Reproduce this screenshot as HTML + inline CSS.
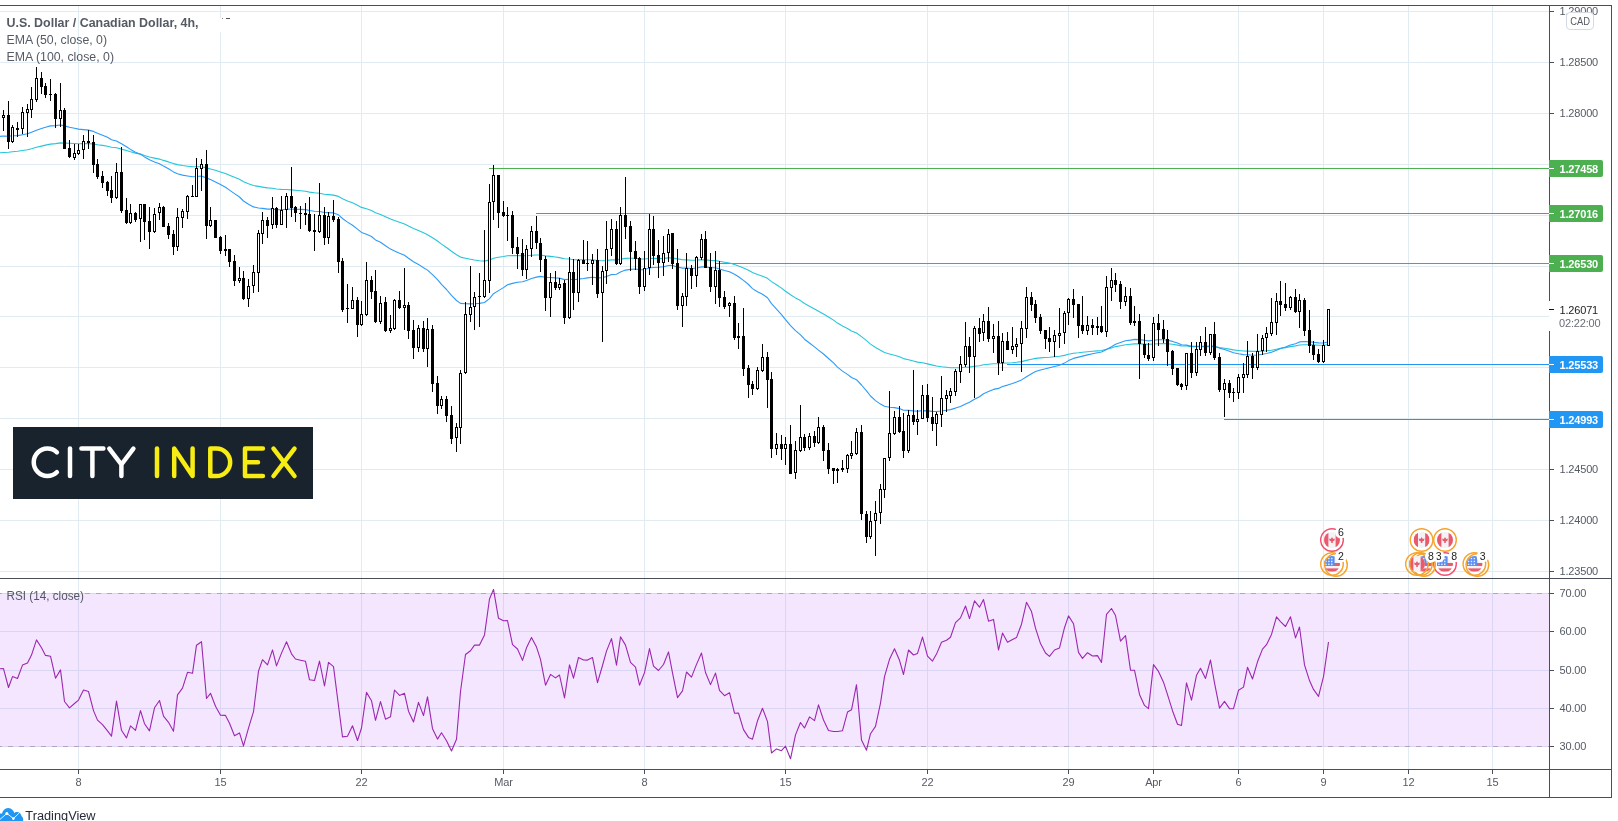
<!DOCTYPE html>
<html><head><meta charset="utf-8"><title>USDCAD 4h</title>
<style>html,body{margin:0;padding:0;background:#fff;overflow:hidden}body{width:1618px;height:821px}svg{font-family:"Liberation Sans",sans-serif}</style></head>
<body>
<svg width="1618" height="821" viewBox="0 0 1618 821" style="display:block;will-change:transform">
<rect x="0" y="0" width="1618" height="821" fill="#ffffff"/>
<g shape-rendering="crispEdges" fill="#e1ecf2">
<rect x="78" y="6" width="1" height="572"/>
<rect x="78" y="579" width="1" height="190"/>
<rect x="220" y="6" width="1" height="572"/>
<rect x="220" y="579" width="1" height="190"/>
<rect x="361" y="6" width="1" height="572"/>
<rect x="361" y="579" width="1" height="190"/>
<rect x="503" y="6" width="1" height="572"/>
<rect x="503" y="579" width="1" height="190"/>
<rect x="644" y="6" width="1" height="572"/>
<rect x="644" y="579" width="1" height="190"/>
<rect x="785" y="6" width="1" height="572"/>
<rect x="785" y="579" width="1" height="190"/>
<rect x="927" y="6" width="1" height="572"/>
<rect x="927" y="579" width="1" height="190"/>
<rect x="1068" y="6" width="1" height="572"/>
<rect x="1068" y="579" width="1" height="190"/>
<rect x="1153" y="6" width="1" height="572"/>
<rect x="1153" y="579" width="1" height="190"/>
<rect x="1238" y="6" width="1" height="572"/>
<rect x="1238" y="579" width="1" height="190"/>
<rect x="1323" y="6" width="1" height="572"/>
<rect x="1323" y="579" width="1" height="190"/>
<rect x="1408" y="6" width="1" height="572"/>
<rect x="1408" y="579" width="1" height="190"/>
<rect x="1492" y="6" width="1" height="572"/>
<rect x="1492" y="579" width="1" height="190"/>
<rect x="0" y="11" width="1549" height="1"/>
<rect x="0" y="62" width="1549" height="1"/>
<rect x="0" y="113" width="1549" height="1"/>
<rect x="0" y="164" width="1549" height="1"/>
<rect x="0" y="215" width="1549" height="1"/>
<rect x="0" y="266" width="1549" height="1"/>
<rect x="0" y="316" width="1549" height="1"/>
<rect x="0" y="367" width="1549" height="1"/>
<rect x="0" y="418" width="1549" height="1"/>
<rect x="0" y="469" width="1549" height="1"/>
<rect x="0" y="520" width="1549" height="1"/>
<rect x="0" y="571" width="1549" height="1"/>
<rect x="0" y="593" width="1549" height="1"/>
<rect x="0" y="631" width="1549" height="1"/>
<rect x="0" y="670" width="1549" height="1"/>
<rect x="0" y="708" width="1549" height="1"/>
<rect x="0" y="746" width="1549" height="1"/>
</g>
<rect x="0" y="593" width="1549" height="154" fill="#9915ff" fill-opacity="0.105"/>
<g shape-rendering="crispEdges" stroke="#b3a3bb" stroke-width="1" stroke-dasharray="5 6">
<line x1="0" y1="593.5" x2="1549" y2="593.5" stroke-dashoffset="3"/>
<line x1="0" y1="746.5" x2="1549" y2="746.5" stroke-dashoffset="3"/>
</g>
<g shape-rendering="crispEdges">
<rect x="489" y="168" width="1060" height="1" fill="#4caf50"/>
<rect x="536" y="213" width="1013" height="1" fill="#4caf50"/>
<rect x="715" y="263" width="834" height="1" fill="#4caf50"/>
<rect x="1007" y="364" width="542" height="1" fill="#2196f3"/>
<rect x="1224" y="419" width="325" height="1" fill="#2196f3"/>
</g>
<polyline points="0,152.7 3.5,152.5 8.5,152.2 12.5,151.7 17.5,151.3 22.5,150.5 27.5,149.7 31.5,148.7 36.5,147.3 41.5,146.1 45.5,145.1 50.5,144.1 55.5,143.6 60.5,142.9 64.5,143.1 69.5,143.3 74.5,143.5 78.5,143.7 83.5,143.6 88.5,143.6 93.5,144.0 97.5,144.7 102.5,145.4 107.5,146.3 111.5,147.3 116.5,147.8 121.5,149.1 126.5,150.5 130.5,151.8 135.5,153.1 140.5,154.1 144.5,155.5 149.5,157.0 154.5,158.1 159.5,159.1 163.5,160.4 168.5,161.9 173.5,163.6 177.5,164.6 182.5,165.5 187.5,166.2 192.5,166.8 196.5,166.8 201.5,166.8 206.5,167.9 210.5,169.0 215.5,170.3 220.5,171.9 225.5,173.5 229.5,175.2 234.5,177.3 239.5,179.3 243.5,181.7 248.5,183.7 253.5,185.5 258.5,186.4 262.5,187.1 267.5,187.9 272.5,188.3 276.5,189.0 281.5,189.4 286.5,189.5 291.5,189.9 295.5,190.3 300.5,190.8 305.5,191.3 309.5,192.1 314.5,192.8 319.5,193.3 324.5,194.2 328.5,194.6 333.5,195.1 338.5,196.4 342.5,198.7 347.5,200.9 352.5,202.8 357.5,205.2 361.5,207.4 366.5,208.8 371.5,210.5 375.5,212.7 380.5,214.5 385.5,216.8 390.5,219.0 394.5,220.6 399.5,222.3 404.5,224.0 408.5,226.1 413.5,228.5 418.5,230.5 423.5,232.8 427.5,234.7 432.5,237.7 437.5,241.0 441.5,244.1 446.5,247.5 451.5,251.3 456.5,254.8 460.5,257.1 465.5,258.2 470.5,259.2 474.5,260.0 479.5,260.7 484.5,261.1 489.5,259.9 493.5,258.2 498.5,257.3 503.5,256.5 507.5,255.7 512.5,255.6 517.5,255.5 522.5,255.8 526.5,255.7 531.5,255.2 536.5,255.0 540.5,255.0 545.5,255.9 550.5,256.4 555.5,257.0 559.5,257.6 564.5,258.7 569.5,259.0 573.5,259.7 578.5,259.7 583.5,259.8 587.5,259.8 592.5,259.8 597.5,260.5 602.5,260.7 606.5,260.5 611.5,259.9 616.5,259.9 620.5,259.1 625.5,258.4 630.5,258.3 635.5,258.3 639.5,258.9 644.5,259.0 649.5,258.5 653.5,258.4 658.5,258.5 663.5,258.4 668.5,257.9 672.5,258.0 677.5,258.9 682.5,259.7 686.5,259.9 691.5,260.2 696.5,260.1 701.5,259.7 705.5,259.9 710.5,260.4 715.5,260.6 719.5,261.3 724.5,262.2 729.5,263.0 734.5,264.5 738.5,266.0 743.5,268.0 748.5,270.3 752.5,272.6 757.5,274.6 762.5,276.2 767.5,278.3 771.5,281.6 776.5,284.8 781.5,288.1 785.5,291.2 790.5,294.8 795.5,297.9 800.5,300.6 804.5,303.5 809.5,306.2 814.5,308.9 818.5,311.2 823.5,314.0 828.5,317.0 833.5,320.1 837.5,323.1 842.5,326.0 847.5,328.5 851.5,331.0 856.5,333.0 861.5,336.6 866.5,340.6 870.5,344.1 875.5,347.5 880.5,350.3 884.5,352.4 889.5,354.0 894.5,355.3 899.5,356.8 903.5,358.6 908.5,359.8 913.5,361.0 917.5,362.1 922.5,362.8 927.5,363.9 932.5,365.1 936.5,366.0 941.5,366.7 946.5,367.2 950.5,367.7 955.5,367.8 960.5,367.7 965.5,367.3 969.5,367.1 974.5,366.3 979.5,365.7 983.5,364.8 988.5,364.3 993.5,363.7 998.5,363.7 1002.5,363.3 1007.5,363.0 1012.5,362.7 1016.5,362.3 1021.5,361.6 1026.5,360.4 1031.5,359.2 1035.5,358.4 1040.5,357.9 1045.5,357.5 1049.5,357.2 1054.5,356.7 1059.5,356.3 1064.5,355.4 1068.5,354.3 1073.5,353.3 1078.5,352.8 1082.5,352.3 1087.5,351.8 1092.5,351.3 1097.5,350.9 1101.5,350.5 1106.5,349.2 1111.5,347.9 1115.5,346.6 1120.5,345.7 1125.5,344.8 1130.5,344.3 1134.5,343.9 1139.5,343.9 1144.5,344.1 1148.5,344.4 1153.5,344.0 1158.5,343.7 1163.5,343.6 1167.5,343.8 1172.5,344.3 1177.5,345.1 1181.5,345.9 1186.5,346.0 1191.5,346.6 1196.5,346.6 1200.5,346.5 1205.5,346.7 1210.5,346.4 1214.5,346.6 1219.5,347.5 1224.5,348.2 1229.5,349.1 1233.5,349.9 1238.5,350.5 1243.5,351.0 1247.5,351.1 1252.5,351.4 1257.5,351.4 1262.5,351.1 1266.5,350.8 1271.5,350.2 1276.5,349.2 1280.5,348.4 1285.5,347.6 1290.5,346.6 1295.5,345.9 1299.5,345.0 1304.5,344.7 1309.5,344.7 1313.5,344.9 1318.5,345.2 1323.5,345.2 1328.5,344.5" fill="none" stroke="#26c6da" stroke-width="1.1" stroke-linejoin="round"/>
<polyline points="0,136.4 3.5,136.0 8.5,136.2 12.5,135.8 17.5,135.6 22.5,134.7 27.5,133.7 31.5,132.3 36.5,130.2 41.5,128.5 45.5,127.2 50.5,125.9 55.5,125.6 60.5,125.0 64.5,125.9 69.5,127.2 74.5,128.2 78.5,129.1 83.5,129.6 88.5,130.1 93.5,131.4 97.5,133.2 102.5,135.2 107.5,137.3 111.5,139.7 116.5,141.0 121.5,143.7 126.5,146.8 130.5,149.4 135.5,152.2 140.5,154.2 144.5,156.9 149.5,159.8 154.5,161.9 159.5,163.7 163.5,166.1 168.5,168.8 173.5,171.9 177.5,173.7 182.5,175.1 187.5,176.0 192.5,176.8 196.5,176.5 201.5,176.0 206.5,177.9 210.5,179.6 215.5,181.9 220.5,184.6 225.5,187.2 229.5,190.1 234.5,193.6 239.5,197.0 243.5,201.0 248.5,204.3 253.5,206.9 258.5,208.0 262.5,208.4 267.5,209.1 272.5,209.1 276.5,209.7 281.5,209.7 286.5,209.2 291.5,209.1 295.5,209.3 300.5,209.4 305.5,209.6 309.5,210.5 314.5,211.3 319.5,211.5 324.5,212.5 328.5,212.6 333.5,212.9 338.5,214.8 342.5,218.5 347.5,222.1 352.5,225.2 357.5,229.1 361.5,232.4 366.5,234.3 371.5,236.5 375.5,239.9 380.5,242.3 385.5,245.8 390.5,249.1 394.5,251.1 399.5,253.3 404.5,255.3 408.5,258.3 413.5,261.8 418.5,264.4 423.5,267.7 427.5,270.1 432.5,274.6 437.5,279.7 441.5,284.4 446.5,289.5 451.5,295.4 456.5,300.5 460.5,303.4 465.5,303.8 470.5,303.9 474.5,303.7 479.5,303.4 484.5,302.5 489.5,298.6 493.5,293.7 498.5,290.6 503.5,287.6 507.5,284.8 512.5,283.4 517.5,282.2 522.5,281.7 526.5,280.4 531.5,278.5 536.5,277.1 540.5,276.4 545.5,277.3 550.5,277.5 555.5,277.9 559.5,278.1 564.5,279.6 569.5,279.3 573.5,279.8 578.5,279.1 583.5,278.5 587.5,277.9 592.5,277.2 597.5,277.9 602.5,277.6 606.5,276.5 611.5,274.6 616.5,274.2 620.5,271.9 625.5,270.1 630.5,269.4 635.5,269.0 639.5,269.7 644.5,269.6 649.5,268.0 653.5,267.5 658.5,267.3 663.5,266.8 668.5,265.5 672.5,265.4 677.5,267.0 682.5,268.1 686.5,268.1 691.5,268.5 696.5,268.0 701.5,266.9 705.5,266.9 710.5,267.7 715.5,267.8 719.5,269.0 724.5,270.5 729.5,271.7 734.5,274.3 738.5,276.8 743.5,280.4 748.5,284.5 752.5,288.6 757.5,291.8 762.5,294.3 767.5,297.7 771.5,303.6 776.5,309.1 781.5,314.6 785.5,319.7 790.5,325.7 795.5,330.6 800.5,334.8 804.5,339.2 809.5,343.0 814.5,346.9 818.5,350.1 823.5,354.0 828.5,358.5 833.5,362.9 837.5,367.1 842.5,371.1 847.5,374.4 851.5,377.5 856.5,379.7 861.5,385.0 866.5,390.9 870.5,396.0 875.5,400.6 880.5,404.1 884.5,406.2 889.5,407.2 894.5,407.6 899.5,408.6 903.5,410.2 908.5,410.4 913.5,410.9 917.5,411.2 922.5,410.6 927.5,410.9 932.5,411.4 936.5,411.5 941.5,411.0 946.5,410.3 950.5,409.6 955.5,408.1 960.5,406.4 965.5,404.0 969.5,402.2 974.5,399.3 979.5,396.7 983.5,393.7 988.5,391.6 993.5,389.4 998.5,388.4 1002.5,386.5 1007.5,385.1 1012.5,383.5 1016.5,382.0 1021.5,379.9 1026.5,376.7 1031.5,373.8 1035.5,371.6 1040.5,370.0 1045.5,368.8 1049.5,367.7 1054.5,366.5 1059.5,365.2 1064.5,363.1 1068.5,360.6 1073.5,358.4 1078.5,357.1 1082.5,356.1 1087.5,354.9 1092.5,353.8 1097.5,352.8 1101.5,352.0 1106.5,349.4 1111.5,346.7 1115.5,344.3 1120.5,342.6 1125.5,340.8 1130.5,340.1 1134.5,339.4 1139.5,339.6 1144.5,340.2 1148.5,340.9 1153.5,340.3 1158.5,339.8 1163.5,339.8 1167.5,340.3 1172.5,341.4 1177.5,343.1 1181.5,344.8 1186.5,345.1 1191.5,346.2 1196.5,346.3 1200.5,346.2 1205.5,346.4 1210.5,346.0 1214.5,346.4 1219.5,348.1 1224.5,349.5 1229.5,351.2 1233.5,352.8 1238.5,353.8 1243.5,354.6 1247.5,354.7 1252.5,355.2 1257.5,355.0 1262.5,354.3 1266.5,353.5 1271.5,352.3 1276.5,350.3 1280.5,348.5 1285.5,346.9 1290.5,345.0 1295.5,343.7 1299.5,341.9 1304.5,341.5 1309.5,341.7 1313.5,342.2 1318.5,342.9 1323.5,343.0 1328.5,341.7" fill="none" stroke="#2d9bf7" stroke-width="1.1" stroke-linejoin="round"/>
<g shape-rendering="crispEdges">
<rect x="3" y="110" width="1" height="5" fill="#000"/>
<rect x="3" y="118" width="1" height="13" fill="#000"/>
<rect x="2" y="115" width="3" height="3" fill="#000"/>
<rect x="3" y="116" width="1" height="1" fill="#fff"/>
<rect x="8" y="101" width="1" height="48" fill="#000"/>
<rect x="7" y="115" width="3" height="27" fill="#000"/>
<rect x="12" y="125" width="1" height="2" fill="#000"/>
<rect x="12" y="142" width="1" height="1" fill="#000"/>
<rect x="11" y="127" width="3" height="15" fill="#000"/>
<rect x="12" y="128" width="1" height="13" fill="#fff"/>
<rect x="17" y="122" width="1" height="15" fill="#000"/>
<rect x="16" y="128" width="3" height="2" fill="#000"/>
<rect x="22" y="107" width="1" height="5" fill="#000"/>
<rect x="22" y="129" width="1" height="5" fill="#000"/>
<rect x="21" y="112" width="3" height="17" fill="#000"/>
<rect x="22" y="113" width="1" height="15" fill="#fff"/>
<rect x="27" y="104" width="1" height="5" fill="#000"/>
<rect x="27" y="113" width="1" height="24" fill="#000"/>
<rect x="26" y="109" width="3" height="4" fill="#000"/>
<rect x="27" y="110" width="1" height="2" fill="#fff"/>
<rect x="31" y="87" width="1" height="12" fill="#000"/>
<rect x="31" y="110" width="1" height="8" fill="#000"/>
<rect x="30" y="99" width="3" height="11" fill="#000"/>
<rect x="31" y="100" width="1" height="9" fill="#fff"/>
<rect x="36" y="67" width="1" height="11" fill="#000"/>
<rect x="36" y="100" width="1" height="2" fill="#000"/>
<rect x="35" y="78" width="3" height="22" fill="#000"/>
<rect x="36" y="79" width="1" height="20" fill="#fff"/>
<rect x="41" y="72" width="1" height="22" fill="#000"/>
<rect x="40" y="78" width="3" height="9" fill="#000"/>
<rect x="45" y="83" width="1" height="15" fill="#000"/>
<rect x="44" y="86" width="3" height="9" fill="#000"/>
<rect x="50" y="79" width="1" height="22" fill="#000"/>
<rect x="49" y="94" width="3" height="1" fill="#000"/>
<rect x="55" y="93" width="1" height="35" fill="#000"/>
<rect x="54" y="94" width="3" height="25" fill="#000"/>
<rect x="60" y="83" width="1" height="27" fill="#000"/>
<rect x="60" y="119" width="1" height="8" fill="#000"/>
<rect x="59" y="110" width="3" height="9" fill="#000"/>
<rect x="60" y="111" width="1" height="7" fill="#fff"/>
<rect x="64" y="108" width="1" height="41" fill="#000"/>
<rect x="63" y="110" width="3" height="39" fill="#000"/>
<rect x="69" y="140" width="1" height="18" fill="#000"/>
<rect x="68" y="148" width="3" height="9" fill="#000"/>
<rect x="74" y="144" width="1" height="9" fill="#000"/>
<rect x="74" y="158" width="1" height="2" fill="#000"/>
<rect x="73" y="153" width="3" height="5" fill="#000"/>
<rect x="74" y="154" width="1" height="3" fill="#fff"/>
<rect x="78" y="144" width="1" height="6" fill="#000"/>
<rect x="78" y="154" width="1" height="1" fill="#000"/>
<rect x="77" y="150" width="3" height="4" fill="#000"/>
<rect x="78" y="151" width="1" height="2" fill="#fff"/>
<rect x="83" y="135" width="1" height="6" fill="#000"/>
<rect x="83" y="150" width="1" height="9" fill="#000"/>
<rect x="82" y="141" width="3" height="9" fill="#000"/>
<rect x="83" y="142" width="1" height="7" fill="#fff"/>
<rect x="88" y="130" width="1" height="19" fill="#000"/>
<rect x="87" y="141" width="3" height="2" fill="#000"/>
<rect x="93" y="135" width="1" height="38" fill="#000"/>
<rect x="92" y="142" width="3" height="23" fill="#000"/>
<rect x="97" y="159" width="1" height="20" fill="#000"/>
<rect x="96" y="164" width="3" height="13" fill="#000"/>
<rect x="102" y="171" width="1" height="17" fill="#000"/>
<rect x="101" y="176" width="3" height="7" fill="#000"/>
<rect x="107" y="181" width="1" height="15" fill="#000"/>
<rect x="106" y="182" width="3" height="9" fill="#000"/>
<rect x="111" y="176" width="1" height="27" fill="#000"/>
<rect x="110" y="190" width="3" height="8" fill="#000"/>
<rect x="116" y="163" width="1" height="9" fill="#000"/>
<rect x="116" y="198" width="1" height="1" fill="#000"/>
<rect x="115" y="172" width="3" height="26" fill="#000"/>
<rect x="116" y="173" width="1" height="24" fill="#fff"/>
<rect x="121" y="147" width="1" height="66" fill="#000"/>
<rect x="120" y="172" width="3" height="39" fill="#000"/>
<rect x="126" y="198" width="1" height="26" fill="#000"/>
<rect x="125" y="210" width="3" height="13" fill="#000"/>
<rect x="130" y="204" width="1" height="9" fill="#000"/>
<rect x="130" y="223" width="1" height="1" fill="#000"/>
<rect x="129" y="213" width="3" height="10" fill="#000"/>
<rect x="130" y="214" width="1" height="8" fill="#fff"/>
<rect x="135" y="212" width="1" height="10" fill="#000"/>
<rect x="134" y="213" width="3" height="7" fill="#000"/>
<rect x="140" y="219" width="1" height="23" fill="#000"/>
<rect x="139" y="204" width="3" height="15" fill="#000"/>
<rect x="140" y="205" width="1" height="13" fill="#fff"/>
<rect x="144" y="204" width="1" height="36" fill="#000"/>
<rect x="143" y="204" width="3" height="18" fill="#000"/>
<rect x="149" y="207" width="1" height="42" fill="#000"/>
<rect x="148" y="221" width="3" height="11" fill="#000"/>
<rect x="154" y="208" width="1" height="6" fill="#000"/>
<rect x="154" y="232" width="1" height="1" fill="#000"/>
<rect x="153" y="214" width="3" height="18" fill="#000"/>
<rect x="154" y="215" width="1" height="16" fill="#fff"/>
<rect x="159" y="203" width="1" height="4" fill="#000"/>
<rect x="159" y="213" width="1" height="7" fill="#000"/>
<rect x="158" y="207" width="3" height="6" fill="#000"/>
<rect x="159" y="208" width="1" height="4" fill="#fff"/>
<rect x="163" y="206" width="1" height="21" fill="#000"/>
<rect x="162" y="207" width="3" height="20" fill="#000"/>
<rect x="168" y="223" width="1" height="16" fill="#000"/>
<rect x="167" y="226" width="3" height="9" fill="#000"/>
<rect x="173" y="230" width="1" height="25" fill="#000"/>
<rect x="172" y="234" width="3" height="13" fill="#000"/>
<rect x="177" y="208" width="1" height="9" fill="#000"/>
<rect x="177" y="247" width="1" height="4" fill="#000"/>
<rect x="176" y="217" width="3" height="30" fill="#000"/>
<rect x="177" y="218" width="1" height="28" fill="#fff"/>
<rect x="182" y="209" width="1" height="2" fill="#000"/>
<rect x="182" y="218" width="1" height="10" fill="#000"/>
<rect x="181" y="211" width="3" height="7" fill="#000"/>
<rect x="182" y="212" width="1" height="5" fill="#fff"/>
<rect x="187" y="195" width="1" height="1" fill="#000"/>
<rect x="187" y="212" width="1" height="7" fill="#000"/>
<rect x="186" y="196" width="3" height="16" fill="#000"/>
<rect x="187" y="197" width="1" height="14" fill="#fff"/>
<rect x="192" y="185" width="1" height="12" fill="#000"/>
<rect x="191" y="196" width="3" height="1" fill="#000"/>
<rect x="196" y="158" width="1" height="10" fill="#000"/>
<rect x="195" y="168" width="3" height="29" fill="#000"/>
<rect x="196" y="169" width="1" height="27" fill="#fff"/>
<rect x="201" y="159" width="1" height="5" fill="#000"/>
<rect x="201" y="169" width="1" height="22" fill="#000"/>
<rect x="200" y="164" width="3" height="5" fill="#000"/>
<rect x="201" y="165" width="1" height="3" fill="#fff"/>
<rect x="206" y="150" width="1" height="89" fill="#000"/>
<rect x="205" y="164" width="3" height="62" fill="#000"/>
<rect x="210" y="207" width="1" height="13" fill="#000"/>
<rect x="210" y="226" width="1" height="1" fill="#000"/>
<rect x="209" y="220" width="3" height="6" fill="#000"/>
<rect x="210" y="221" width="1" height="4" fill="#fff"/>
<rect x="215" y="220" width="1" height="18" fill="#000"/>
<rect x="214" y="220" width="3" height="18" fill="#000"/>
<rect x="220" y="236" width="1" height="18" fill="#000"/>
<rect x="219" y="237" width="3" height="14" fill="#000"/>
<rect x="225" y="235" width="1" height="21" fill="#000"/>
<rect x="224" y="249" width="3" height="2" fill="#000"/>
<rect x="229" y="249" width="1" height="18" fill="#000"/>
<rect x="228" y="249" width="3" height="13" fill="#000"/>
<rect x="234" y="255" width="1" height="31" fill="#000"/>
<rect x="233" y="261" width="3" height="20" fill="#000"/>
<rect x="239" y="267" width="1" height="11" fill="#000"/>
<rect x="239" y="281" width="1" height="2" fill="#000"/>
<rect x="238" y="278" width="3" height="3" fill="#000"/>
<rect x="239" y="279" width="1" height="1" fill="#fff"/>
<rect x="243" y="271" width="1" height="29" fill="#000"/>
<rect x="242" y="278" width="3" height="21" fill="#000"/>
<rect x="248" y="279" width="1" height="7" fill="#000"/>
<rect x="248" y="299" width="1" height="8" fill="#000"/>
<rect x="247" y="286" width="3" height="13" fill="#000"/>
<rect x="248" y="287" width="1" height="11" fill="#fff"/>
<rect x="253" y="265" width="1" height="7" fill="#000"/>
<rect x="253" y="286" width="1" height="7" fill="#000"/>
<rect x="252" y="272" width="3" height="14" fill="#000"/>
<rect x="253" y="273" width="1" height="12" fill="#fff"/>
<rect x="258" y="230" width="1" height="3" fill="#000"/>
<rect x="258" y="273" width="1" height="19" fill="#000"/>
<rect x="257" y="233" width="3" height="40" fill="#000"/>
<rect x="258" y="234" width="1" height="38" fill="#fff"/>
<rect x="262" y="212" width="1" height="8" fill="#000"/>
<rect x="262" y="234" width="1" height="10" fill="#000"/>
<rect x="261" y="220" width="3" height="14" fill="#000"/>
<rect x="262" y="221" width="1" height="12" fill="#fff"/>
<rect x="267" y="217" width="1" height="21" fill="#000"/>
<rect x="266" y="220" width="3" height="6" fill="#000"/>
<rect x="272" y="197" width="1" height="11" fill="#000"/>
<rect x="272" y="225" width="1" height="4" fill="#000"/>
<rect x="271" y="208" width="3" height="17" fill="#000"/>
<rect x="272" y="209" width="1" height="15" fill="#fff"/>
<rect x="276" y="207" width="1" height="21" fill="#000"/>
<rect x="275" y="208" width="3" height="17" fill="#000"/>
<rect x="281" y="196" width="1" height="14" fill="#000"/>
<rect x="280" y="210" width="3" height="15" fill="#000"/>
<rect x="281" y="211" width="1" height="13" fill="#fff"/>
<rect x="286" y="193" width="1" height="3" fill="#000"/>
<rect x="286" y="210" width="1" height="18" fill="#000"/>
<rect x="285" y="196" width="3" height="14" fill="#000"/>
<rect x="286" y="197" width="1" height="12" fill="#fff"/>
<rect x="291" y="167" width="1" height="50" fill="#000"/>
<rect x="290" y="196" width="3" height="12" fill="#000"/>
<rect x="295" y="206" width="1" height="16" fill="#000"/>
<rect x="294" y="207" width="3" height="6" fill="#000"/>
<rect x="300" y="206" width="1" height="23" fill="#000"/>
<rect x="299" y="213" width="3" height="1" fill="#000"/>
<rect x="305" y="203" width="1" height="22" fill="#000"/>
<rect x="304" y="213" width="3" height="2" fill="#000"/>
<rect x="309" y="197" width="1" height="35" fill="#000"/>
<rect x="308" y="214" width="3" height="17" fill="#000"/>
<rect x="314" y="214" width="1" height="37" fill="#000"/>
<rect x="313" y="230" width="3" height="2" fill="#000"/>
<rect x="319" y="183" width="1" height="32" fill="#000"/>
<rect x="319" y="232" width="1" height="1" fill="#000"/>
<rect x="318" y="215" width="3" height="17" fill="#000"/>
<rect x="319" y="216" width="1" height="15" fill="#fff"/>
<rect x="324" y="207" width="1" height="38" fill="#000"/>
<rect x="323" y="215" width="3" height="23" fill="#000"/>
<rect x="328" y="212" width="1" height="4" fill="#000"/>
<rect x="328" y="238" width="1" height="6" fill="#000"/>
<rect x="327" y="216" width="3" height="22" fill="#000"/>
<rect x="328" y="217" width="1" height="20" fill="#fff"/>
<rect x="333" y="200" width="1" height="22" fill="#000"/>
<rect x="332" y="216" width="3" height="4" fill="#000"/>
<rect x="338" y="217" width="1" height="56" fill="#000"/>
<rect x="337" y="219" width="3" height="43" fill="#000"/>
<rect x="342" y="258" width="1" height="54" fill="#000"/>
<rect x="341" y="261" width="3" height="49" fill="#000"/>
<rect x="347" y="284" width="1" height="39" fill="#000"/>
<rect x="346" y="308" width="3" height="1" fill="#000"/>
<rect x="352" y="287" width="1" height="13" fill="#000"/>
<rect x="351" y="300" width="3" height="9" fill="#000"/>
<rect x="352" y="301" width="1" height="7" fill="#fff"/>
<rect x="357" y="297" width="1" height="40" fill="#000"/>
<rect x="356" y="300" width="3" height="25" fill="#000"/>
<rect x="361" y="301" width="1" height="13" fill="#000"/>
<rect x="361" y="325" width="1" height="1" fill="#000"/>
<rect x="360" y="314" width="3" height="11" fill="#000"/>
<rect x="361" y="315" width="1" height="9" fill="#fff"/>
<rect x="366" y="262" width="1" height="18" fill="#000"/>
<rect x="366" y="315" width="1" height="1" fill="#000"/>
<rect x="365" y="280" width="3" height="35" fill="#000"/>
<rect x="366" y="281" width="1" height="33" fill="#fff"/>
<rect x="371" y="276" width="1" height="23" fill="#000"/>
<rect x="370" y="280" width="3" height="12" fill="#000"/>
<rect x="375" y="270" width="1" height="53" fill="#000"/>
<rect x="374" y="291" width="3" height="31" fill="#000"/>
<rect x="380" y="296" width="1" height="7" fill="#000"/>
<rect x="380" y="322" width="1" height="2" fill="#000"/>
<rect x="379" y="303" width="3" height="19" fill="#000"/>
<rect x="380" y="304" width="1" height="17" fill="#fff"/>
<rect x="385" y="297" width="1" height="35" fill="#000"/>
<rect x="384" y="302" width="3" height="29" fill="#000"/>
<rect x="390" y="315" width="1" height="13" fill="#000"/>
<rect x="390" y="331" width="1" height="2" fill="#000"/>
<rect x="389" y="328" width="3" height="3" fill="#000"/>
<rect x="390" y="329" width="1" height="1" fill="#fff"/>
<rect x="394" y="299" width="1" height="1" fill="#000"/>
<rect x="394" y="329" width="1" height="1" fill="#000"/>
<rect x="393" y="300" width="3" height="29" fill="#000"/>
<rect x="394" y="301" width="1" height="27" fill="#fff"/>
<rect x="399" y="291" width="1" height="18" fill="#000"/>
<rect x="398" y="300" width="3" height="8" fill="#000"/>
<rect x="404" y="268" width="1" height="37" fill="#000"/>
<rect x="404" y="308" width="1" height="22" fill="#000"/>
<rect x="403" y="305" width="3" height="3" fill="#000"/>
<rect x="404" y="306" width="1" height="1" fill="#fff"/>
<rect x="408" y="302" width="1" height="37" fill="#000"/>
<rect x="407" y="305" width="3" height="26" fill="#000"/>
<rect x="413" y="320" width="1" height="39" fill="#000"/>
<rect x="412" y="330" width="3" height="18" fill="#000"/>
<rect x="418" y="325" width="1" height="3" fill="#000"/>
<rect x="418" y="348" width="1" height="4" fill="#000"/>
<rect x="417" y="328" width="3" height="20" fill="#000"/>
<rect x="418" y="329" width="1" height="18" fill="#fff"/>
<rect x="423" y="321" width="1" height="31" fill="#000"/>
<rect x="422" y="328" width="3" height="21" fill="#000"/>
<rect x="427" y="318" width="1" height="11" fill="#000"/>
<rect x="427" y="349" width="1" height="18" fill="#000"/>
<rect x="426" y="329" width="3" height="20" fill="#000"/>
<rect x="427" y="330" width="1" height="18" fill="#fff"/>
<rect x="432" y="325" width="1" height="67" fill="#000"/>
<rect x="431" y="329" width="3" height="55" fill="#000"/>
<rect x="437" y="376" width="1" height="38" fill="#000"/>
<rect x="436" y="383" width="3" height="23" fill="#000"/>
<rect x="441" y="396" width="1" height="3" fill="#000"/>
<rect x="441" y="406" width="1" height="3" fill="#000"/>
<rect x="440" y="399" width="3" height="7" fill="#000"/>
<rect x="441" y="400" width="1" height="5" fill="#fff"/>
<rect x="446" y="396" width="1" height="26" fill="#000"/>
<rect x="445" y="399" width="3" height="17" fill="#000"/>
<rect x="451" y="406" width="1" height="38" fill="#000"/>
<rect x="450" y="415" width="3" height="24" fill="#000"/>
<rect x="456" y="423" width="1" height="4" fill="#000"/>
<rect x="456" y="438" width="1" height="14" fill="#000"/>
<rect x="455" y="427" width="3" height="11" fill="#000"/>
<rect x="456" y="428" width="1" height="9" fill="#fff"/>
<rect x="460" y="370" width="1" height="3" fill="#000"/>
<rect x="460" y="428" width="1" height="16" fill="#000"/>
<rect x="459" y="373" width="3" height="55" fill="#000"/>
<rect x="460" y="374" width="1" height="53" fill="#fff"/>
<rect x="465" y="302" width="1" height="12" fill="#000"/>
<rect x="465" y="373" width="1" height="1" fill="#000"/>
<rect x="464" y="314" width="3" height="59" fill="#000"/>
<rect x="465" y="315" width="1" height="57" fill="#fff"/>
<rect x="470" y="266" width="1" height="41" fill="#000"/>
<rect x="470" y="315" width="1" height="7" fill="#000"/>
<rect x="469" y="307" width="3" height="8" fill="#000"/>
<rect x="470" y="308" width="1" height="6" fill="#fff"/>
<rect x="474" y="292" width="1" height="5" fill="#000"/>
<rect x="474" y="307" width="1" height="23" fill="#000"/>
<rect x="473" y="297" width="3" height="10" fill="#000"/>
<rect x="474" y="298" width="1" height="8" fill="#fff"/>
<rect x="479" y="273" width="1" height="54" fill="#000"/>
<rect x="478" y="296" width="3" height="1" fill="#000"/>
<rect x="484" y="230" width="1" height="50" fill="#000"/>
<rect x="484" y="297" width="1" height="1" fill="#000"/>
<rect x="483" y="280" width="3" height="17" fill="#000"/>
<rect x="484" y="281" width="1" height="15" fill="#fff"/>
<rect x="489" y="184" width="1" height="18" fill="#000"/>
<rect x="489" y="281" width="1" height="12" fill="#000"/>
<rect x="488" y="202" width="3" height="79" fill="#000"/>
<rect x="489" y="203" width="1" height="77" fill="#fff"/>
<rect x="493" y="165" width="1" height="10" fill="#000"/>
<rect x="493" y="202" width="1" height="18" fill="#000"/>
<rect x="492" y="175" width="3" height="27" fill="#000"/>
<rect x="493" y="176" width="1" height="25" fill="#fff"/>
<rect x="498" y="175" width="1" height="53" fill="#000"/>
<rect x="497" y="175" width="3" height="38" fill="#000"/>
<rect x="503" y="201" width="1" height="16" fill="#000"/>
<rect x="502" y="212" width="3" height="4" fill="#000"/>
<rect x="507" y="207" width="1" height="34" fill="#000"/>
<rect x="506" y="215" width="3" height="1" fill="#000"/>
<rect x="512" y="211" width="1" height="43" fill="#000"/>
<rect x="511" y="215" width="3" height="33" fill="#000"/>
<rect x="517" y="237" width="1" height="32" fill="#000"/>
<rect x="516" y="247" width="3" height="7" fill="#000"/>
<rect x="522" y="239" width="1" height="37" fill="#000"/>
<rect x="521" y="253" width="3" height="17" fill="#000"/>
<rect x="526" y="245" width="1" height="4" fill="#000"/>
<rect x="526" y="270" width="1" height="9" fill="#000"/>
<rect x="525" y="249" width="3" height="21" fill="#000"/>
<rect x="526" y="250" width="1" height="19" fill="#fff"/>
<rect x="531" y="226" width="1" height="5" fill="#000"/>
<rect x="531" y="249" width="1" height="8" fill="#000"/>
<rect x="530" y="231" width="3" height="18" fill="#000"/>
<rect x="531" y="232" width="1" height="16" fill="#fff"/>
<rect x="536" y="216" width="1" height="33" fill="#000"/>
<rect x="535" y="231" width="3" height="12" fill="#000"/>
<rect x="540" y="238" width="1" height="34" fill="#000"/>
<rect x="539" y="243" width="3" height="17" fill="#000"/>
<rect x="545" y="256" width="1" height="55" fill="#000"/>
<rect x="544" y="259" width="3" height="39" fill="#000"/>
<rect x="550" y="273" width="1" height="9" fill="#000"/>
<rect x="550" y="298" width="1" height="19" fill="#000"/>
<rect x="549" y="282" width="3" height="16" fill="#000"/>
<rect x="550" y="283" width="1" height="14" fill="#fff"/>
<rect x="555" y="271" width="1" height="19" fill="#000"/>
<rect x="554" y="282" width="3" height="6" fill="#000"/>
<rect x="559" y="278" width="1" height="6" fill="#000"/>
<rect x="559" y="288" width="1" height="2" fill="#000"/>
<rect x="558" y="284" width="3" height="4" fill="#000"/>
<rect x="559" y="285" width="1" height="2" fill="#fff"/>
<rect x="564" y="280" width="1" height="44" fill="#000"/>
<rect x="563" y="283" width="3" height="35" fill="#000"/>
<rect x="569" y="257" width="1" height="15" fill="#000"/>
<rect x="569" y="318" width="1" height="1" fill="#000"/>
<rect x="568" y="272" width="3" height="46" fill="#000"/>
<rect x="569" y="273" width="1" height="44" fill="#fff"/>
<rect x="573" y="259" width="1" height="51" fill="#000"/>
<rect x="572" y="272" width="3" height="21" fill="#000"/>
<rect x="578" y="259" width="1" height="1" fill="#000"/>
<rect x="578" y="293" width="1" height="9" fill="#000"/>
<rect x="577" y="260" width="3" height="33" fill="#000"/>
<rect x="578" y="261" width="1" height="31" fill="#fff"/>
<rect x="583" y="240" width="1" height="24" fill="#000"/>
<rect x="582" y="260" width="3" height="4" fill="#000"/>
<rect x="587" y="241" width="1" height="30" fill="#000"/>
<rect x="586" y="263" width="3" height="1" fill="#000"/>
<rect x="592" y="254" width="1" height="6" fill="#000"/>
<rect x="592" y="264" width="1" height="21" fill="#000"/>
<rect x="591" y="260" width="3" height="4" fill="#000"/>
<rect x="592" y="261" width="1" height="2" fill="#fff"/>
<rect x="597" y="249" width="1" height="49" fill="#000"/>
<rect x="596" y="260" width="3" height="34" fill="#000"/>
<rect x="602" y="266" width="1" height="5" fill="#000"/>
<rect x="602" y="293" width="1" height="49" fill="#000"/>
<rect x="601" y="271" width="3" height="22" fill="#000"/>
<rect x="602" y="272" width="1" height="20" fill="#fff"/>
<rect x="606" y="221" width="1" height="28" fill="#000"/>
<rect x="606" y="271" width="1" height="13" fill="#000"/>
<rect x="605" y="249" width="3" height="22" fill="#000"/>
<rect x="606" y="250" width="1" height="20" fill="#fff"/>
<rect x="611" y="219" width="1" height="10" fill="#000"/>
<rect x="611" y="249" width="1" height="7" fill="#000"/>
<rect x="610" y="229" width="3" height="20" fill="#000"/>
<rect x="611" y="230" width="1" height="18" fill="#fff"/>
<rect x="616" y="221" width="1" height="44" fill="#000"/>
<rect x="615" y="229" width="3" height="35" fill="#000"/>
<rect x="620" y="207" width="1" height="8" fill="#000"/>
<rect x="620" y="264" width="1" height="1" fill="#000"/>
<rect x="619" y="215" width="3" height="49" fill="#000"/>
<rect x="620" y="216" width="1" height="47" fill="#fff"/>
<rect x="625" y="177" width="1" height="62" fill="#000"/>
<rect x="624" y="215" width="3" height="12" fill="#000"/>
<rect x="630" y="221" width="1" height="50" fill="#000"/>
<rect x="629" y="226" width="3" height="26" fill="#000"/>
<rect x="635" y="241" width="1" height="29" fill="#000"/>
<rect x="634" y="251" width="3" height="8" fill="#000"/>
<rect x="639" y="257" width="1" height="37" fill="#000"/>
<rect x="638" y="258" width="3" height="29" fill="#000"/>
<rect x="644" y="251" width="1" height="17" fill="#000"/>
<rect x="644" y="287" width="1" height="4" fill="#000"/>
<rect x="643" y="268" width="3" height="19" fill="#000"/>
<rect x="644" y="269" width="1" height="17" fill="#fff"/>
<rect x="649" y="214" width="1" height="15" fill="#000"/>
<rect x="649" y="268" width="1" height="7" fill="#000"/>
<rect x="648" y="229" width="3" height="39" fill="#000"/>
<rect x="649" y="230" width="1" height="37" fill="#fff"/>
<rect x="653" y="216" width="1" height="49" fill="#000"/>
<rect x="652" y="229" width="3" height="27" fill="#000"/>
<rect x="658" y="240" width="1" height="38" fill="#000"/>
<rect x="657" y="255" width="3" height="8" fill="#000"/>
<rect x="663" y="236" width="1" height="17" fill="#000"/>
<rect x="663" y="263" width="1" height="13" fill="#000"/>
<rect x="662" y="253" width="3" height="10" fill="#000"/>
<rect x="663" y="254" width="1" height="8" fill="#fff"/>
<rect x="668" y="229" width="1" height="5" fill="#000"/>
<rect x="668" y="253" width="1" height="9" fill="#000"/>
<rect x="667" y="234" width="3" height="19" fill="#000"/>
<rect x="668" y="235" width="1" height="17" fill="#fff"/>
<rect x="672" y="233" width="1" height="36" fill="#000"/>
<rect x="671" y="233" width="3" height="31" fill="#000"/>
<rect x="677" y="249" width="1" height="61" fill="#000"/>
<rect x="676" y="263" width="3" height="43" fill="#000"/>
<rect x="682" y="293" width="1" height="3" fill="#000"/>
<rect x="682" y="306" width="1" height="21" fill="#000"/>
<rect x="681" y="296" width="3" height="10" fill="#000"/>
<rect x="682" y="297" width="1" height="8" fill="#fff"/>
<rect x="686" y="253" width="1" height="15" fill="#000"/>
<rect x="686" y="297" width="1" height="9" fill="#000"/>
<rect x="685" y="268" width="3" height="29" fill="#000"/>
<rect x="686" y="269" width="1" height="27" fill="#fff"/>
<rect x="691" y="265" width="1" height="24" fill="#000"/>
<rect x="690" y="268" width="3" height="8" fill="#000"/>
<rect x="696" y="256" width="1" height="1" fill="#000"/>
<rect x="696" y="276" width="1" height="11" fill="#000"/>
<rect x="695" y="257" width="3" height="19" fill="#000"/>
<rect x="696" y="258" width="1" height="17" fill="#fff"/>
<rect x="701" y="234" width="1" height="5" fill="#000"/>
<rect x="701" y="258" width="1" height="2" fill="#000"/>
<rect x="700" y="239" width="3" height="19" fill="#000"/>
<rect x="701" y="240" width="1" height="17" fill="#fff"/>
<rect x="705" y="231" width="1" height="37" fill="#000"/>
<rect x="704" y="239" width="3" height="29" fill="#000"/>
<rect x="710" y="253" width="1" height="39" fill="#000"/>
<rect x="709" y="267" width="3" height="20" fill="#000"/>
<rect x="715" y="251" width="1" height="19" fill="#000"/>
<rect x="715" y="287" width="1" height="17" fill="#000"/>
<rect x="714" y="270" width="3" height="17" fill="#000"/>
<rect x="715" y="271" width="1" height="15" fill="#fff"/>
<rect x="719" y="261" width="1" height="46" fill="#000"/>
<rect x="718" y="270" width="3" height="28" fill="#000"/>
<rect x="724" y="291" width="1" height="18" fill="#000"/>
<rect x="723" y="297" width="3" height="10" fill="#000"/>
<rect x="729" y="302" width="1" height="1" fill="#000"/>
<rect x="729" y="306" width="1" height="11" fill="#000"/>
<rect x="728" y="303" width="3" height="3" fill="#000"/>
<rect x="729" y="304" width="1" height="1" fill="#fff"/>
<rect x="734" y="296" width="1" height="44" fill="#000"/>
<rect x="733" y="303" width="3" height="35" fill="#000"/>
<rect x="738" y="323" width="1" height="26" fill="#000"/>
<rect x="737" y="336" width="3" height="2" fill="#000"/>
<rect x="743" y="308" width="1" height="68" fill="#000"/>
<rect x="742" y="336" width="3" height="33" fill="#000"/>
<rect x="748" y="365" width="1" height="33" fill="#000"/>
<rect x="747" y="368" width="3" height="17" fill="#000"/>
<rect x="752" y="381" width="1" height="14" fill="#000"/>
<rect x="751" y="384" width="3" height="5" fill="#000"/>
<rect x="757" y="367" width="1" height="3" fill="#000"/>
<rect x="757" y="389" width="1" height="1" fill="#000"/>
<rect x="756" y="370" width="3" height="19" fill="#000"/>
<rect x="757" y="371" width="1" height="17" fill="#fff"/>
<rect x="762" y="344" width="1" height="13" fill="#000"/>
<rect x="762" y="371" width="1" height="1" fill="#000"/>
<rect x="761" y="357" width="3" height="14" fill="#000"/>
<rect x="762" y="358" width="1" height="12" fill="#fff"/>
<rect x="767" y="352" width="1" height="56" fill="#000"/>
<rect x="766" y="357" width="3" height="23" fill="#000"/>
<rect x="771" y="372" width="1" height="86" fill="#000"/>
<rect x="770" y="379" width="3" height="70" fill="#000"/>
<rect x="776" y="433" width="1" height="11" fill="#000"/>
<rect x="776" y="449" width="1" height="6" fill="#000"/>
<rect x="775" y="444" width="3" height="5" fill="#000"/>
<rect x="776" y="445" width="1" height="3" fill="#fff"/>
<rect x="781" y="435" width="1" height="25" fill="#000"/>
<rect x="780" y="444" width="3" height="5" fill="#000"/>
<rect x="785" y="437" width="1" height="7" fill="#000"/>
<rect x="785" y="449" width="1" height="16" fill="#000"/>
<rect x="784" y="444" width="3" height="5" fill="#000"/>
<rect x="785" y="445" width="1" height="3" fill="#fff"/>
<rect x="790" y="425" width="1" height="49" fill="#000"/>
<rect x="789" y="444" width="3" height="30" fill="#000"/>
<rect x="795" y="441" width="1" height="9" fill="#000"/>
<rect x="795" y="473" width="1" height="6" fill="#000"/>
<rect x="794" y="450" width="3" height="23" fill="#000"/>
<rect x="795" y="451" width="1" height="21" fill="#fff"/>
<rect x="800" y="405" width="1" height="32" fill="#000"/>
<rect x="800" y="451" width="1" height="1" fill="#000"/>
<rect x="799" y="437" width="3" height="14" fill="#000"/>
<rect x="800" y="438" width="1" height="12" fill="#fff"/>
<rect x="804" y="434" width="1" height="17" fill="#000"/>
<rect x="803" y="437" width="3" height="11" fill="#000"/>
<rect x="809" y="433" width="1" height="3" fill="#000"/>
<rect x="809" y="448" width="1" height="2" fill="#000"/>
<rect x="808" y="436" width="3" height="12" fill="#000"/>
<rect x="809" y="437" width="1" height="10" fill="#fff"/>
<rect x="814" y="431" width="1" height="16" fill="#000"/>
<rect x="813" y="436" width="3" height="7" fill="#000"/>
<rect x="818" y="417" width="1" height="10" fill="#000"/>
<rect x="818" y="443" width="1" height="1" fill="#000"/>
<rect x="817" y="427" width="3" height="16" fill="#000"/>
<rect x="818" y="428" width="1" height="14" fill="#fff"/>
<rect x="823" y="425" width="1" height="36" fill="#000"/>
<rect x="822" y="427" width="3" height="24" fill="#000"/>
<rect x="828" y="443" width="1" height="31" fill="#000"/>
<rect x="827" y="450" width="3" height="19" fill="#000"/>
<rect x="833" y="468" width="1" height="16" fill="#000"/>
<rect x="832" y="468" width="3" height="3" fill="#000"/>
<rect x="837" y="468" width="1" height="15" fill="#000"/>
<rect x="836" y="469" width="3" height="2" fill="#000"/>
<rect x="842" y="460" width="1" height="12" fill="#000"/>
<rect x="841" y="468" width="3" height="2" fill="#000"/>
<rect x="847" y="454" width="1" height="1" fill="#000"/>
<rect x="847" y="469" width="1" height="4" fill="#000"/>
<rect x="846" y="455" width="3" height="14" fill="#000"/>
<rect x="847" y="456" width="1" height="12" fill="#fff"/>
<rect x="851" y="441" width="1" height="12" fill="#000"/>
<rect x="851" y="456" width="1" height="3" fill="#000"/>
<rect x="850" y="453" width="3" height="3" fill="#000"/>
<rect x="851" y="454" width="1" height="1" fill="#fff"/>
<rect x="856" y="428" width="1" height="4" fill="#000"/>
<rect x="856" y="454" width="1" height="1" fill="#000"/>
<rect x="855" y="432" width="3" height="22" fill="#000"/>
<rect x="856" y="433" width="1" height="20" fill="#fff"/>
<rect x="861" y="425" width="1" height="95" fill="#000"/>
<rect x="860" y="432" width="3" height="82" fill="#000"/>
<rect x="866" y="511" width="1" height="32" fill="#000"/>
<rect x="865" y="514" width="3" height="23" fill="#000"/>
<rect x="870" y="511" width="1" height="10" fill="#000"/>
<rect x="870" y="537" width="1" height="2" fill="#000"/>
<rect x="869" y="521" width="3" height="16" fill="#000"/>
<rect x="870" y="522" width="1" height="14" fill="#fff"/>
<rect x="875" y="501" width="1" height="12" fill="#000"/>
<rect x="875" y="521" width="1" height="35" fill="#000"/>
<rect x="874" y="513" width="3" height="8" fill="#000"/>
<rect x="875" y="514" width="1" height="6" fill="#fff"/>
<rect x="880" y="484" width="1" height="5" fill="#000"/>
<rect x="880" y="513" width="1" height="11" fill="#000"/>
<rect x="879" y="489" width="3" height="24" fill="#000"/>
<rect x="880" y="490" width="1" height="22" fill="#fff"/>
<rect x="884" y="490" width="1" height="8" fill="#000"/>
<rect x="883" y="458" width="3" height="32" fill="#000"/>
<rect x="884" y="459" width="1" height="30" fill="#fff"/>
<rect x="889" y="391" width="1" height="42" fill="#000"/>
<rect x="889" y="458" width="1" height="3" fill="#000"/>
<rect x="888" y="433" width="3" height="25" fill="#000"/>
<rect x="889" y="434" width="1" height="23" fill="#fff"/>
<rect x="894" y="411" width="1" height="6" fill="#000"/>
<rect x="894" y="434" width="1" height="1" fill="#000"/>
<rect x="893" y="417" width="3" height="17" fill="#000"/>
<rect x="894" y="418" width="1" height="15" fill="#fff"/>
<rect x="899" y="406" width="1" height="27" fill="#000"/>
<rect x="898" y="417" width="3" height="15" fill="#000"/>
<rect x="903" y="413" width="1" height="45" fill="#000"/>
<rect x="902" y="431" width="3" height="20" fill="#000"/>
<rect x="908" y="410" width="1" height="5" fill="#000"/>
<rect x="908" y="451" width="1" height="2" fill="#000"/>
<rect x="907" y="415" width="3" height="36" fill="#000"/>
<rect x="908" y="416" width="1" height="34" fill="#fff"/>
<rect x="913" y="370" width="1" height="55" fill="#000"/>
<rect x="912" y="415" width="3" height="7" fill="#000"/>
<rect x="917" y="410" width="1" height="9" fill="#000"/>
<rect x="917" y="422" width="1" height="13" fill="#000"/>
<rect x="916" y="419" width="3" height="3" fill="#000"/>
<rect x="917" y="420" width="1" height="1" fill="#fff"/>
<rect x="922" y="385" width="1" height="10" fill="#000"/>
<rect x="921" y="395" width="3" height="24" fill="#000"/>
<rect x="922" y="396" width="1" height="22" fill="#fff"/>
<rect x="927" y="384" width="1" height="38" fill="#000"/>
<rect x="926" y="395" width="3" height="23" fill="#000"/>
<rect x="932" y="397" width="1" height="34" fill="#000"/>
<rect x="931" y="417" width="3" height="7" fill="#000"/>
<rect x="936" y="412" width="1" height="2" fill="#000"/>
<rect x="936" y="424" width="1" height="22" fill="#000"/>
<rect x="935" y="414" width="3" height="10" fill="#000"/>
<rect x="936" y="415" width="1" height="8" fill="#fff"/>
<rect x="941" y="376" width="1" height="22" fill="#000"/>
<rect x="941" y="415" width="1" height="12" fill="#000"/>
<rect x="940" y="398" width="3" height="17" fill="#000"/>
<rect x="941" y="399" width="1" height="15" fill="#fff"/>
<rect x="946" y="390" width="1" height="5" fill="#000"/>
<rect x="946" y="399" width="1" height="13" fill="#000"/>
<rect x="945" y="395" width="3" height="4" fill="#000"/>
<rect x="946" y="396" width="1" height="2" fill="#fff"/>
<rect x="950" y="388" width="1" height="3" fill="#000"/>
<rect x="950" y="396" width="1" height="7" fill="#000"/>
<rect x="949" y="391" width="3" height="5" fill="#000"/>
<rect x="950" y="392" width="1" height="3" fill="#fff"/>
<rect x="955" y="369" width="1" height="2" fill="#000"/>
<rect x="955" y="392" width="1" height="4" fill="#000"/>
<rect x="954" y="371" width="3" height="21" fill="#000"/>
<rect x="955" y="372" width="1" height="19" fill="#fff"/>
<rect x="960" y="356" width="1" height="8" fill="#000"/>
<rect x="960" y="372" width="1" height="11" fill="#000"/>
<rect x="959" y="364" width="3" height="8" fill="#000"/>
<rect x="960" y="365" width="1" height="6" fill="#fff"/>
<rect x="965" y="322" width="1" height="24" fill="#000"/>
<rect x="965" y="365" width="1" height="2" fill="#000"/>
<rect x="964" y="346" width="3" height="19" fill="#000"/>
<rect x="965" y="347" width="1" height="17" fill="#fff"/>
<rect x="969" y="337" width="1" height="36" fill="#000"/>
<rect x="968" y="346" width="3" height="11" fill="#000"/>
<rect x="974" y="326" width="1" height="2" fill="#000"/>
<rect x="974" y="357" width="1" height="41" fill="#000"/>
<rect x="973" y="328" width="3" height="29" fill="#000"/>
<rect x="974" y="329" width="1" height="27" fill="#fff"/>
<rect x="979" y="318" width="1" height="24" fill="#000"/>
<rect x="978" y="328" width="3" height="6" fill="#000"/>
<rect x="983" y="314" width="1" height="7" fill="#000"/>
<rect x="983" y="333" width="1" height="8" fill="#000"/>
<rect x="982" y="321" width="3" height="12" fill="#000"/>
<rect x="983" y="322" width="1" height="10" fill="#fff"/>
<rect x="988" y="307" width="1" height="35" fill="#000"/>
<rect x="987" y="321" width="3" height="18" fill="#000"/>
<rect x="993" y="324" width="1" height="12" fill="#000"/>
<rect x="993" y="339" width="1" height="14" fill="#000"/>
<rect x="992" y="336" width="3" height="3" fill="#000"/>
<rect x="993" y="337" width="1" height="1" fill="#fff"/>
<rect x="998" y="321" width="1" height="54" fill="#000"/>
<rect x="997" y="336" width="3" height="27" fill="#000"/>
<rect x="1002" y="333" width="1" height="8" fill="#000"/>
<rect x="1002" y="363" width="1" height="8" fill="#000"/>
<rect x="1001" y="341" width="3" height="22" fill="#000"/>
<rect x="1002" y="342" width="1" height="20" fill="#fff"/>
<rect x="1007" y="332" width="1" height="18" fill="#000"/>
<rect x="1006" y="341" width="3" height="9" fill="#000"/>
<rect x="1012" y="327" width="1" height="19" fill="#000"/>
<rect x="1012" y="350" width="1" height="4" fill="#000"/>
<rect x="1011" y="346" width="3" height="4" fill="#000"/>
<rect x="1012" y="347" width="1" height="2" fill="#fff"/>
<rect x="1016" y="338" width="1" height="6" fill="#000"/>
<rect x="1016" y="347" width="1" height="10" fill="#000"/>
<rect x="1015" y="344" width="3" height="3" fill="#000"/>
<rect x="1016" y="345" width="1" height="1" fill="#fff"/>
<rect x="1021" y="321" width="1" height="7" fill="#000"/>
<rect x="1021" y="344" width="1" height="28" fill="#000"/>
<rect x="1020" y="328" width="3" height="16" fill="#000"/>
<rect x="1021" y="329" width="1" height="14" fill="#fff"/>
<rect x="1026" y="287" width="1" height="10" fill="#000"/>
<rect x="1026" y="329" width="1" height="9" fill="#000"/>
<rect x="1025" y="297" width="3" height="32" fill="#000"/>
<rect x="1026" y="298" width="1" height="30" fill="#fff"/>
<rect x="1031" y="292" width="1" height="19" fill="#000"/>
<rect x="1030" y="297" width="3" height="8" fill="#000"/>
<rect x="1035" y="300" width="1" height="23" fill="#000"/>
<rect x="1034" y="304" width="3" height="14" fill="#000"/>
<rect x="1040" y="314" width="1" height="20" fill="#000"/>
<rect x="1039" y="317" width="3" height="14" fill="#000"/>
<rect x="1045" y="330" width="1" height="19" fill="#000"/>
<rect x="1044" y="330" width="3" height="9" fill="#000"/>
<rect x="1049" y="327" width="1" height="25" fill="#000"/>
<rect x="1048" y="338" width="3" height="4" fill="#000"/>
<rect x="1054" y="330" width="1" height="5" fill="#000"/>
<rect x="1054" y="342" width="1" height="15" fill="#000"/>
<rect x="1053" y="335" width="3" height="7" fill="#000"/>
<rect x="1054" y="336" width="1" height="5" fill="#fff"/>
<rect x="1059" y="308" width="1" height="25" fill="#000"/>
<rect x="1059" y="336" width="1" height="12" fill="#000"/>
<rect x="1058" y="333" width="3" height="3" fill="#000"/>
<rect x="1059" y="334" width="1" height="1" fill="#fff"/>
<rect x="1064" y="311" width="1" height="2" fill="#000"/>
<rect x="1064" y="333" width="1" height="11" fill="#000"/>
<rect x="1063" y="313" width="3" height="20" fill="#000"/>
<rect x="1064" y="314" width="1" height="18" fill="#fff"/>
<rect x="1068" y="298" width="1" height="1" fill="#000"/>
<rect x="1068" y="313" width="1" height="12" fill="#000"/>
<rect x="1067" y="299" width="3" height="14" fill="#000"/>
<rect x="1068" y="300" width="1" height="12" fill="#fff"/>
<rect x="1073" y="289" width="1" height="29" fill="#000"/>
<rect x="1072" y="299" width="3" height="6" fill="#000"/>
<rect x="1078" y="304" width="1" height="34" fill="#000"/>
<rect x="1077" y="304" width="3" height="22" fill="#000"/>
<rect x="1082" y="296" width="1" height="38" fill="#000"/>
<rect x="1081" y="325" width="3" height="6" fill="#000"/>
<rect x="1087" y="316" width="1" height="9" fill="#000"/>
<rect x="1087" y="331" width="1" height="4" fill="#000"/>
<rect x="1086" y="325" width="3" height="6" fill="#000"/>
<rect x="1087" y="326" width="1" height="4" fill="#fff"/>
<rect x="1092" y="319" width="1" height="16" fill="#000"/>
<rect x="1091" y="325" width="3" height="3" fill="#000"/>
<rect x="1097" y="317" width="1" height="18" fill="#000"/>
<rect x="1096" y="326" width="3" height="2" fill="#000"/>
<rect x="1101" y="306" width="1" height="27" fill="#000"/>
<rect x="1100" y="326" width="3" height="6" fill="#000"/>
<rect x="1106" y="276" width="1" height="11" fill="#000"/>
<rect x="1106" y="332" width="1" height="5" fill="#000"/>
<rect x="1105" y="287" width="3" height="45" fill="#000"/>
<rect x="1106" y="288" width="1" height="43" fill="#fff"/>
<rect x="1111" y="268" width="1" height="12" fill="#000"/>
<rect x="1111" y="288" width="1" height="13" fill="#000"/>
<rect x="1110" y="280" width="3" height="8" fill="#000"/>
<rect x="1111" y="281" width="1" height="6" fill="#fff"/>
<rect x="1115" y="273" width="1" height="19" fill="#000"/>
<rect x="1114" y="280" width="3" height="5" fill="#000"/>
<rect x="1120" y="281" width="1" height="28" fill="#000"/>
<rect x="1119" y="284" width="3" height="18" fill="#000"/>
<rect x="1125" y="287" width="1" height="9" fill="#000"/>
<rect x="1125" y="302" width="1" height="4" fill="#000"/>
<rect x="1124" y="296" width="3" height="6" fill="#000"/>
<rect x="1125" y="297" width="1" height="4" fill="#fff"/>
<rect x="1130" y="288" width="1" height="37" fill="#000"/>
<rect x="1129" y="296" width="3" height="27" fill="#000"/>
<rect x="1134" y="306" width="1" height="20" fill="#000"/>
<rect x="1133" y="321" width="3" height="2" fill="#000"/>
<rect x="1139" y="314" width="1" height="65" fill="#000"/>
<rect x="1138" y="321" width="3" height="23" fill="#000"/>
<rect x="1144" y="334" width="1" height="24" fill="#000"/>
<rect x="1143" y="344" width="3" height="11" fill="#000"/>
<rect x="1148" y="343" width="1" height="18" fill="#000"/>
<rect x="1147" y="355" width="3" height="4" fill="#000"/>
<rect x="1153" y="317" width="1" height="6" fill="#000"/>
<rect x="1153" y="358" width="1" height="3" fill="#000"/>
<rect x="1152" y="323" width="3" height="35" fill="#000"/>
<rect x="1153" y="324" width="1" height="33" fill="#fff"/>
<rect x="1158" y="314" width="1" height="32" fill="#000"/>
<rect x="1157" y="323" width="3" height="7" fill="#000"/>
<rect x="1163" y="320" width="1" height="23" fill="#000"/>
<rect x="1162" y="329" width="3" height="10" fill="#000"/>
<rect x="1167" y="330" width="1" height="36" fill="#000"/>
<rect x="1166" y="339" width="3" height="13" fill="#000"/>
<rect x="1172" y="350" width="1" height="25" fill="#000"/>
<rect x="1171" y="351" width="3" height="18" fill="#000"/>
<rect x="1177" y="368" width="1" height="18" fill="#000"/>
<rect x="1176" y="368" width="3" height="17" fill="#000"/>
<rect x="1181" y="383" width="1" height="7" fill="#000"/>
<rect x="1180" y="384" width="3" height="3" fill="#000"/>
<rect x="1186" y="386" width="1" height="4" fill="#000"/>
<rect x="1185" y="353" width="3" height="33" fill="#000"/>
<rect x="1186" y="354" width="1" height="31" fill="#fff"/>
<rect x="1191" y="342" width="1" height="36" fill="#000"/>
<rect x="1190" y="353" width="3" height="20" fill="#000"/>
<rect x="1196" y="342" width="1" height="7" fill="#000"/>
<rect x="1196" y="373" width="1" height="3" fill="#000"/>
<rect x="1195" y="349" width="3" height="24" fill="#000"/>
<rect x="1196" y="350" width="1" height="22" fill="#fff"/>
<rect x="1200" y="336" width="1" height="6" fill="#000"/>
<rect x="1200" y="350" width="1" height="6" fill="#000"/>
<rect x="1199" y="342" width="3" height="8" fill="#000"/>
<rect x="1200" y="343" width="1" height="6" fill="#fff"/>
<rect x="1205" y="327" width="1" height="29" fill="#000"/>
<rect x="1204" y="342" width="3" height="11" fill="#000"/>
<rect x="1210" y="353" width="1" height="2" fill="#000"/>
<rect x="1209" y="334" width="3" height="19" fill="#000"/>
<rect x="1210" y="335" width="1" height="17" fill="#fff"/>
<rect x="1214" y="322" width="1" height="38" fill="#000"/>
<rect x="1213" y="334" width="3" height="24" fill="#000"/>
<rect x="1219" y="353" width="1" height="39" fill="#000"/>
<rect x="1218" y="357" width="3" height="33" fill="#000"/>
<rect x="1224" y="379" width="1" height="4" fill="#000"/>
<rect x="1224" y="390" width="1" height="27" fill="#000"/>
<rect x="1223" y="383" width="3" height="7" fill="#000"/>
<rect x="1224" y="384" width="1" height="5" fill="#fff"/>
<rect x="1229" y="380" width="1" height="18" fill="#000"/>
<rect x="1228" y="383" width="3" height="10" fill="#000"/>
<rect x="1233" y="388" width="1" height="14" fill="#000"/>
<rect x="1232" y="392" width="3" height="1" fill="#000"/>
<rect x="1238" y="374" width="1" height="3" fill="#000"/>
<rect x="1238" y="393" width="1" height="6" fill="#000"/>
<rect x="1237" y="377" width="3" height="16" fill="#000"/>
<rect x="1238" y="378" width="1" height="14" fill="#fff"/>
<rect x="1243" y="363" width="1" height="11" fill="#000"/>
<rect x="1243" y="378" width="1" height="15" fill="#000"/>
<rect x="1242" y="374" width="3" height="4" fill="#000"/>
<rect x="1243" y="375" width="1" height="2" fill="#fff"/>
<rect x="1247" y="341" width="1" height="15" fill="#000"/>
<rect x="1247" y="375" width="1" height="3" fill="#000"/>
<rect x="1246" y="356" width="3" height="19" fill="#000"/>
<rect x="1247" y="357" width="1" height="17" fill="#fff"/>
<rect x="1252" y="353" width="1" height="26" fill="#000"/>
<rect x="1251" y="356" width="3" height="12" fill="#000"/>
<rect x="1257" y="334" width="1" height="17" fill="#000"/>
<rect x="1257" y="368" width="1" height="2" fill="#000"/>
<rect x="1256" y="351" width="3" height="17" fill="#000"/>
<rect x="1257" y="352" width="1" height="15" fill="#fff"/>
<rect x="1262" y="335" width="1" height="3" fill="#000"/>
<rect x="1262" y="351" width="1" height="4" fill="#000"/>
<rect x="1261" y="338" width="3" height="13" fill="#000"/>
<rect x="1262" y="339" width="1" height="11" fill="#fff"/>
<rect x="1266" y="327" width="1" height="6" fill="#000"/>
<rect x="1266" y="338" width="1" height="14" fill="#000"/>
<rect x="1265" y="333" width="3" height="5" fill="#000"/>
<rect x="1266" y="334" width="1" height="3" fill="#fff"/>
<rect x="1271" y="298" width="1" height="24" fill="#000"/>
<rect x="1271" y="334" width="1" height="2" fill="#000"/>
<rect x="1270" y="322" width="3" height="12" fill="#000"/>
<rect x="1271" y="323" width="1" height="10" fill="#fff"/>
<rect x="1276" y="293" width="1" height="8" fill="#000"/>
<rect x="1276" y="323" width="1" height="12" fill="#000"/>
<rect x="1275" y="301" width="3" height="22" fill="#000"/>
<rect x="1276" y="302" width="1" height="20" fill="#fff"/>
<rect x="1280" y="281" width="1" height="35" fill="#000"/>
<rect x="1279" y="301" width="3" height="4" fill="#000"/>
<rect x="1285" y="283" width="1" height="28" fill="#000"/>
<rect x="1284" y="304" width="3" height="4" fill="#000"/>
<rect x="1290" y="296" width="1" height="1" fill="#000"/>
<rect x="1290" y="308" width="1" height="2" fill="#000"/>
<rect x="1289" y="297" width="3" height="11" fill="#000"/>
<rect x="1290" y="298" width="1" height="9" fill="#fff"/>
<rect x="1295" y="289" width="1" height="24" fill="#000"/>
<rect x="1294" y="297" width="3" height="15" fill="#000"/>
<rect x="1299" y="294" width="1" height="6" fill="#000"/>
<rect x="1299" y="312" width="1" height="16" fill="#000"/>
<rect x="1298" y="300" width="3" height="12" fill="#000"/>
<rect x="1299" y="301" width="1" height="10" fill="#fff"/>
<rect x="1304" y="298" width="1" height="38" fill="#000"/>
<rect x="1303" y="300" width="3" height="31" fill="#000"/>
<rect x="1309" y="310" width="1" height="43" fill="#000"/>
<rect x="1308" y="330" width="3" height="16" fill="#000"/>
<rect x="1313" y="341" width="1" height="19" fill="#000"/>
<rect x="1312" y="345" width="3" height="10" fill="#000"/>
<rect x="1318" y="349" width="1" height="14" fill="#000"/>
<rect x="1317" y="354" width="3" height="8" fill="#000"/>
<rect x="1323" y="340" width="1" height="5" fill="#000"/>
<rect x="1323" y="362" width="1" height="1" fill="#000"/>
<rect x="1322" y="345" width="3" height="17" fill="#000"/>
<rect x="1323" y="346" width="1" height="15" fill="#fff"/>
<rect x="1327" y="309" width="3" height="37" fill="#000"/>
<rect x="1328" y="310" width="1" height="35" fill="#fff"/>
</g>
<polyline points="-1.2,668.8 3.5,668.6 8.5,687.5 12.5,676.6 17.5,678.5 22.5,665.1 27.5,663.0 31.5,655.1 36.5,639.9 41.5,647.8 45.5,655.4 50.5,656.2 55.5,678.2 60.5,669.9 64.5,701.5 69.5,707.8 74.5,703.5 78.5,700.1 83.5,690.0 88.5,691.5 93.5,710.6 97.5,720.1 102.5,724.6 107.5,730.9 111.5,736.2 116.5,701.1 121.5,730.3 126.5,737.9 130.5,725.9 135.5,730.3 140.5,710.6 144.5,723.7 149.5,730.9 154.5,707.8 159.5,700.5 163.5,716.1 168.5,722.3 173.5,731.3 177.5,694.9 182.5,688.2 187.5,672.3 192.5,673.3 196.5,645.2 201.5,641.7 206.5,698.5 210.5,693.3 215.5,706.2 220.5,715.2 225.5,715.4 229.5,723.2 234.5,735.7 239.5,732.9 243.5,745.9 248.5,728.2 253.5,711.7 258.5,671.1 262.5,659.7 267.5,664.9 272.5,649.9 276.5,665.9 281.5,653.1 286.5,641.7 291.5,653.8 295.5,659.0 300.5,660.2 305.5,661.3 309.5,679.8 314.5,680.5 319.5,661.1 324.5,686.0 328.5,662.4 333.5,666.6 338.5,705.7 342.5,736.9 347.5,736.3 352.5,725.7 357.5,740.5 361.5,728.0 366.5,692.4 371.5,700.7 375.5,720.3 380.5,701.6 385.5,719.2 390.5,716.7 394.5,690.0 399.5,695.4 404.5,693.3 408.5,711.2 413.5,722.0 418.5,702.4 423.5,715.6 427.5,696.9 432.5,728.7 437.5,739.1 441.5,732.8 446.5,740.7 451.5,751.0 456.5,739.2 460.5,691.5 465.5,654.5 470.5,650.7 474.5,645.1 479.5,645.1 484.5,634.9 489.5,599.0 493.5,589.4 498.5,618.3 503.5,620.8 507.5,620.6 512.5,644.6 517.5,649.0 522.5,660.4 526.5,647.8 531.5,637.4 536.5,647.1 540.5,659.4 545.5,685.2 550.5,674.4 555.5,677.9 559.5,675.0 564.5,697.9 569.5,664.9 573.5,678.2 578.5,657.5 583.5,660.0 587.5,660.1 592.5,657.6 597.5,682.6 602.5,665.5 606.5,651.1 611.5,638.6 616.5,665.2 620.5,636.8 625.5,645.1 630.5,662.4 635.5,667.2 639.5,685.2 644.5,672.6 649.5,648.6 653.5,666.1 658.5,670.5 663.5,664.5 668.5,651.9 672.5,672.9 677.5,697.6 682.5,690.9 686.5,672.0 691.5,677.1 696.5,664.4 701.5,653.0 705.5,672.5 710.5,684.6 715.5,673.1 719.5,690.3 724.5,695.7 729.5,692.7 734.5,713.2 738.5,713.0 743.5,729.6 748.5,737.4 752.5,739.2 757.5,720.8 762.5,708.3 767.5,721.6 771.5,753.0 776.5,748.9 781.5,750.7 785.5,746.2 790.5,758.8 795.5,734.9 800.5,722.5 804.5,728.0 809.5,716.9 814.5,720.6 818.5,704.9 823.5,720.0 828.5,730.5 833.5,731.5 837.5,731.5 842.5,730.7 847.5,712.1 851.5,709.8 856.5,684.7 861.5,740.1 866.5,750.2 870.5,733.7 875.5,726.4 880.5,703.1 884.5,676.7 889.5,659.3 894.5,648.7 899.5,660.3 903.5,674.5 908.5,650.0 913.5,655.0 917.5,653.4 922.5,637.1 927.5,656.2 932.5,661.1 936.5,654.1 941.5,642.3 946.5,640.2 950.5,637.3 955.5,622.6 960.5,617.9 965.5,606.0 969.5,618.6 974.5,600.8 979.5,607.2 983.5,599.6 988.5,621.2 993.5,619.4 998.5,650.0 1002.5,633.1 1007.5,642.2 1012.5,639.4 1016.5,637.6 1021.5,624.2 1026.5,602.3 1031.5,611.6 1035.5,628.1 1040.5,643.6 1045.5,653.0 1049.5,656.4 1054.5,650.0 1059.5,647.9 1064.5,627.7 1068.5,615.9 1073.5,623.7 1078.5,652.4 1082.5,658.4 1087.5,652.7 1092.5,656.0 1097.5,655.6 1101.5,662.5 1106.5,614.3 1111.5,608.5 1115.5,615.5 1120.5,641.1 1125.5,635.6 1130.5,670.2 1134.5,670.2 1139.5,694.4 1144.5,705.4 1148.5,708.6 1153.5,664.6 1158.5,671.4 1163.5,682.2 1167.5,694.7 1172.5,710.7 1177.5,724.3 1181.5,725.5 1186.5,682.8 1191.5,700.2 1196.5,675.3 1200.5,668.3 1205.5,678.4 1210.5,660.0 1214.5,682.8 1219.5,708.1 1224.5,701.4 1229.5,708.6 1233.5,708.7 1238.5,690.3 1243.5,687.1 1247.5,667.3 1252.5,679.0 1257.5,661.8 1262.5,649.1 1266.5,644.7 1271.5,634.4 1276.5,616.9 1280.5,621.6 1285.5,626.5 1290.5,616.8 1295.5,637.9 1299.5,627.0 1304.5,664.9 1309.5,680.6 1313.5,689.4 1318.5,696.4 1323.5,676.7 1328.5,642.0" fill="none" stroke="#9c27b0" stroke-width="1.1" stroke-linejoin="round"/>
<g shape-rendering="crispEdges" fill="#4a4e5a">
<rect x="0" y="5" width="1612" height="1"/>
<rect x="0" y="578" width="1612" height="1"/>
<rect x="0" y="769" width="1612" height="1"/>
<rect x="0" y="797" width="1612" height="1"/>
<rect x="1549" y="5" width="1" height="793"/>
<rect x="1611" y="5" width="1" height="793"/>
<rect x="78" y="770" width="1" height="4"/>
<rect x="220" y="770" width="1" height="4"/>
<rect x="361" y="770" width="1" height="4"/>
<rect x="503" y="770" width="1" height="4"/>
<rect x="644" y="770" width="1" height="4"/>
<rect x="785" y="770" width="1" height="4"/>
<rect x="927" y="770" width="1" height="4"/>
<rect x="1068" y="770" width="1" height="4"/>
<rect x="1153" y="770" width="1" height="4"/>
<rect x="1238" y="770" width="1" height="4"/>
<rect x="1323" y="770" width="1" height="4"/>
<rect x="1408" y="770" width="1" height="4"/>
<rect x="1492" y="770" width="1" height="4"/>
<rect x="1550" y="11" width="4" height="1"/>
<rect x="1550" y="62" width="4" height="1"/>
<rect x="1550" y="113" width="4" height="1"/>
<rect x="1550" y="469" width="4" height="1"/>
<rect x="1550" y="520" width="4" height="1"/>
<rect x="1550" y="571" width="4" height="1"/>
<rect x="1550" y="593" width="4" height="1"/>
<rect x="1550" y="631" width="4" height="1"/>
<rect x="1550" y="670" width="4" height="1"/>
<rect x="1550" y="708" width="4" height="1"/>
<rect x="1550" y="746" width="4" height="1"/>
</g>
<text x="1559.5" y="14.6" font-family="Liberation Sans, sans-serif" font-size="11" font-weight="normal" fill="#555a64" letter-spacing="-0.18">1.29000</text>
<text x="1559.5" y="65.6" font-family="Liberation Sans, sans-serif" font-size="11" font-weight="normal" fill="#555a64" letter-spacing="-0.18">1.28500</text>
<text x="1559.5" y="116.6" font-family="Liberation Sans, sans-serif" font-size="11" font-weight="normal" fill="#555a64" letter-spacing="-0.18">1.28000</text>
<text x="1559.5" y="472.6" font-family="Liberation Sans, sans-serif" font-size="11" font-weight="normal" fill="#555a64" letter-spacing="-0.18">1.24500</text>
<text x="1559.5" y="523.6" font-family="Liberation Sans, sans-serif" font-size="11" font-weight="normal" fill="#555a64" letter-spacing="-0.18">1.24000</text>
<text x="1559.5" y="574.6" font-family="Liberation Sans, sans-serif" font-size="11" font-weight="normal" fill="#555a64" letter-spacing="-0.18">1.23500</text>
<text x="1559.5" y="596.6" font-family="Liberation Sans, sans-serif" font-size="11" font-weight="normal" fill="#555a64" letter-spacing="-0.18">70.00</text>
<text x="1559.5" y="634.6" font-family="Liberation Sans, sans-serif" font-size="11" font-weight="normal" fill="#555a64" letter-spacing="-0.18">60.00</text>
<text x="1559.5" y="673.6" font-family="Liberation Sans, sans-serif" font-size="11" font-weight="normal" fill="#555a64" letter-spacing="-0.18">50.00</text>
<text x="1559.5" y="711.6" font-family="Liberation Sans, sans-serif" font-size="11" font-weight="normal" fill="#555a64" letter-spacing="-0.18">40.00</text>
<text x="1559.5" y="749.6" font-family="Liberation Sans, sans-serif" font-size="11" font-weight="normal" fill="#555a64" letter-spacing="-0.18">30.00</text>
<rect x="1566.5" y="12.5" width="27" height="17" rx="3.5" fill="#fff" stroke="#d5d9e3" stroke-width="1"/>
<text x="1570.3" y="25" font-family="Liberation Sans, sans-serif" font-size="11" fill="#555a64" textLength="19.8" lengthAdjust="spacingAndGlyphs">CAD</text>
<path d="M1549,160 H1601 a2,2 0 0 1 2,2 V175 a2,2 0 0 1 -2,2 H1549 Z" fill="#4caf50"/>
<rect x="1549" y="168" width="5" height="1" fill="#fff" shape-rendering="crispEdges"/>
<text x="1559.5" y="172.5" font-family="Liberation Sans, sans-serif" font-size="11" font-weight="bold" fill="#ffffff" letter-spacing="-0.18">1.27458</text>
<path d="M1549,205 H1601 a2,2 0 0 1 2,2 V220 a2,2 0 0 1 -2,2 H1549 Z" fill="#4caf50"/>
<rect x="1549" y="213" width="5" height="1" fill="#fff" shape-rendering="crispEdges"/>
<text x="1559.5" y="217.5" font-family="Liberation Sans, sans-serif" font-size="11" font-weight="bold" fill="#ffffff" letter-spacing="-0.18">1.27016</text>
<path d="M1549,255 H1601 a2,2 0 0 1 2,2 V270 a2,2 0 0 1 -2,2 H1549 Z" fill="#4caf50"/>
<rect x="1549" y="263" width="5" height="1" fill="#fff" shape-rendering="crispEdges"/>
<text x="1559.5" y="267.5" font-family="Liberation Sans, sans-serif" font-size="11" font-weight="bold" fill="#ffffff" letter-spacing="-0.18">1.26530</text>
<path d="M1549,356 H1601 a2,2 0 0 1 2,2 V371 a2,2 0 0 1 -2,2 H1549 Z" fill="#2196f3"/>
<rect x="1549" y="364" width="5" height="1" fill="#fff" shape-rendering="crispEdges"/>
<text x="1559.5" y="368.5" font-family="Liberation Sans, sans-serif" font-size="11" font-weight="bold" fill="#ffffff" letter-spacing="-0.18">1.25533</text>
<path d="M1549,411 H1601 a2,2 0 0 1 2,2 V426 a2,2 0 0 1 -2,2 H1549 Z" fill="#2196f3"/>
<rect x="1549" y="419" width="5" height="1" fill="#fff" shape-rendering="crispEdges"/>
<text x="1559.5" y="423.5" font-family="Liberation Sans, sans-serif" font-size="11" font-weight="bold" fill="#ffffff" letter-spacing="-0.18">1.24993</text>
<rect x="1549" y="301" width="61" height="30" fill="#fff"/>
<rect x="1549" y="309" width="5" height="1" fill="#111" shape-rendering="crispEdges"/>
<text x="1559.5" y="314" font-family="Liberation Sans, sans-serif" font-size="11" font-weight="normal" fill="#222" letter-spacing="-0.18">1.26071</text>
<text x="1559" y="327" font-family="Liberation Sans, sans-serif" font-size="11" font-weight="normal" fill="#6a6d78" letter-spacing="-0.18">02:22:00</text>
<text x="78.5" y="786" font-family="Liberation Sans, sans-serif" font-size="11" fill="#555a64" text-anchor="middle" letter-spacing="-0.2">8</text>
<text x="220.5" y="786" font-family="Liberation Sans, sans-serif" font-size="11" fill="#555a64" text-anchor="middle" letter-spacing="-0.2">15</text>
<text x="361.5" y="786" font-family="Liberation Sans, sans-serif" font-size="11" fill="#555a64" text-anchor="middle" letter-spacing="-0.2">22</text>
<text x="503.5" y="786" font-family="Liberation Sans, sans-serif" font-size="11" fill="#555a64" text-anchor="middle" letter-spacing="-0.2">Mar</text>
<text x="644.5" y="786" font-family="Liberation Sans, sans-serif" font-size="11" fill="#555a64" text-anchor="middle" letter-spacing="-0.2">8</text>
<text x="785.5" y="786" font-family="Liberation Sans, sans-serif" font-size="11" fill="#555a64" text-anchor="middle" letter-spacing="-0.2">15</text>
<text x="927.5" y="786" font-family="Liberation Sans, sans-serif" font-size="11" fill="#555a64" text-anchor="middle" letter-spacing="-0.2">22</text>
<text x="1068.5" y="786" font-family="Liberation Sans, sans-serif" font-size="11" fill="#555a64" text-anchor="middle" letter-spacing="-0.2">29</text>
<text x="1153.5" y="786" font-family="Liberation Sans, sans-serif" font-size="11" fill="#555a64" text-anchor="middle" letter-spacing="-0.2">Apr</text>
<text x="1238.5" y="786" font-family="Liberation Sans, sans-serif" font-size="11" fill="#555a64" text-anchor="middle" letter-spacing="-0.2">6</text>
<text x="1323.5" y="786" font-family="Liberation Sans, sans-serif" font-size="11" fill="#555a64" text-anchor="middle" letter-spacing="-0.2">9</text>
<text x="1408.5" y="786" font-family="Liberation Sans, sans-serif" font-size="11" fill="#555a64" text-anchor="middle" letter-spacing="-0.2">12</text>
<text x="1492.5" y="786" font-family="Liberation Sans, sans-serif" font-size="11" fill="#555a64" text-anchor="middle" letter-spacing="-0.2">15</text>
<rect x="199" y="18" width="34" height="14" fill="#fff"/>
<rect x="222" y="18" width="1" height="1" fill="#8a8c94" shape-rendering="crispEdges"/><rect x="226" y="18" width="4" height="1" fill="#50535e" shape-rendering="crispEdges"/>
<text x="6.5" y="27.2" font-family="Liberation Sans, sans-serif" font-size="13" font-weight="bold" fill="#555a64" textLength="192" lengthAdjust="spacingAndGlyphs">U.S. Dollar / Canadian Dollar, 4h,</text>
<text x="6.5" y="44" font-family="Liberation Sans, sans-serif" font-size="12" fill="#555a64" textLength="100.5" lengthAdjust="spacingAndGlyphs">EMA (50, close, 0)</text>
<text x="6.5" y="61" font-family="Liberation Sans, sans-serif" font-size="12" fill="#555a64" textLength="107.5" lengthAdjust="spacingAndGlyphs">EMA (100, close, 0)</text>
<text x="6.5" y="600" font-family="Liberation Sans, sans-serif" font-size="12" fill="#555a64" textLength="77.5" lengthAdjust="spacingAndGlyphs">RSI (14, close)</text>
<rect x="13" y="427" width="300" height="72" fill="#19232d"/>
<g fill="none" stroke-width="4.5" stroke-linecap="round" stroke-linejoin="round">
<g stroke="#ffffff">
<path d="M56.9,452.4 A13.7,13.7 0 1 0 56.9,472.2"/>
<path d="M70,448.6 V476.0"/>
<path d="M81.4,448.6 H103.4 M92.4,448.6 V476.0"/>
<path d="M109.3,448.6 L121.4,464.5 L133.4,448.6 M121.4,464.5 V476.0"/>
</g>
<g stroke="#f7ec13">
<path d="M157,448.6 V476.0"/>
<path d="M174.2,476.0 V448.6 L192.6,476.0 V448.6"/>
<path d="M210.3,448.6 V476.0 H216.5 A13.7,13.7 0 0 0 216.5,448.6 Z"/>
<path d="M262.9,448.6 H245 V476.0 H262.9 M245,462.3 H258"/>
<path d="M273.5,448.6 L294.5,476.0 M294.5,448.6 L273.5,476.0"/>
</g></g>
<clipPath id="mainpane"><rect x="0" y="6" width="1549" height="572"/></clipPath>
<g clip-path="url(#mainpane)"><g><clipPath id="c1332_540"><circle cx="1332" cy="540" r="8"/></clipPath><g clip-path="url(#c1332_540)"><rect x="1324" y="532" width="16" height="16" fill="#f3f3f6"/><rect x="1324" y="532" width="4.4" height="16" fill="#ea5a6f"/><rect x="1335.6" y="532" width="4.4" height="16" fill="#ea5a6f"/><path d="M1332,537 l1.2,2 l1.8,-0.5 l-0.8,2.5 l-1.4,0.3 v1.7 h-1.6 v-1.7 l-1.4,-0.3 l-0.8,-2.5 l1.8,0.5 z" fill="#ea5a6f"/></g></g><circle cx="1332" cy="540" r="11.3" fill="none" stroke="#f0506e" stroke-width="1.4"/><circle cx="1341" cy="532.5" r="6" fill="#fff"/><text x="1341" y="536" font-family="Liberation Sans, sans-serif" font-size="10.5" fill="#222" text-anchor="middle">6</text><g><clipPath id="u1332_564"><circle cx="1332" cy="564" r="8"/></clipPath><g clip-path="url(#u1332_564)"><rect x="1324" y="556" width="16" height="16" fill="#f3f3f6"/><rect x="1324" y="563.0" width="16" height="3" fill="#ea5a6f"/><rect x="1324" y="568.4" width="16" height="3.2" fill="#ea5a6f"/><rect x="1324" y="556" width="10.6" height="10" fill="#5b8def"/><rect x="1325.2" y="557.8" width="1.5" height="1.5" fill="#dfe9ff"/><rect x="1325.2" y="560.7" width="1.5" height="1.5" fill="#dfe9ff"/><rect x="1325.2" y="563.6" width="1.5" height="1.5" fill="#dfe9ff"/><rect x="1328.1" y="557.8" width="1.5" height="1.5" fill="#dfe9ff"/><rect x="1328.1" y="560.7" width="1.5" height="1.5" fill="#dfe9ff"/><rect x="1328.1" y="563.6" width="1.5" height="1.5" fill="#dfe9ff"/><rect x="1331.0" y="557.8" width="1.5" height="1.5" fill="#dfe9ff"/><rect x="1331.0" y="560.7" width="1.5" height="1.5" fill="#dfe9ff"/><rect x="1331.0" y="563.6" width="1.5" height="1.5" fill="#dfe9ff"/></g></g><circle cx="1336" cy="565" r="11.3" fill="none" stroke="#f5a32b" stroke-width="1.4"/><circle cx="1332" cy="564" r="11.3" fill="none" stroke="#f5a32b" stroke-width="1.4"/><circle cx="1341" cy="556.5" r="6" fill="#fff"/><text x="1341" y="560" font-family="Liberation Sans, sans-serif" font-size="10.5" fill="#222" text-anchor="middle">2</text><g><clipPath id="c1421_540"><circle cx="1421.6" cy="540" r="8"/></clipPath><g clip-path="url(#c1421_540)"><rect x="1413.6" y="532" width="16" height="16" fill="#f3f3f6"/><rect x="1413.6" y="532" width="4.4" height="16" fill="#ea5a6f"/><rect x="1425.2" y="532" width="4.4" height="16" fill="#ea5a6f"/><path d="M1421.6,537 l1.2,2 l1.8,-0.5 l-0.8,2.5 l-1.4,0.3 v1.7 h-1.6 v-1.7 l-1.4,-0.3 l-0.8,-2.5 l1.8,0.5 z" fill="#ea5a6f"/></g></g><circle cx="1421.6" cy="540" r="11.3" fill="none" stroke="#f5a32b" stroke-width="1.4"/><g><clipPath id="c1445_540"><circle cx="1445" cy="540" r="8"/></clipPath><g clip-path="url(#c1445_540)"><rect x="1437" y="532" width="16" height="16" fill="#f3f3f6"/><rect x="1437" y="532" width="4.4" height="16" fill="#ea5a6f"/><rect x="1448.6" y="532" width="4.4" height="16" fill="#ea5a6f"/><path d="M1445,537 l1.2,2 l1.8,-0.5 l-0.8,2.5 l-1.4,0.3 v1.7 h-1.6 v-1.7 l-1.4,-0.3 l-0.8,-2.5 l1.8,0.5 z" fill="#ea5a6f"/></g></g><circle cx="1445" cy="540" r="11.3" fill="none" stroke="#f5a32b" stroke-width="1.4"/><g><clipPath id="u1474_564"><circle cx="1474.6" cy="564" r="8"/></clipPath><g clip-path="url(#u1474_564)"><rect x="1466.6" y="556" width="16" height="16" fill="#f3f3f6"/><rect x="1466.6" y="563.0" width="16" height="3" fill="#ea5a6f"/><rect x="1466.6" y="568.4" width="16" height="3.2" fill="#ea5a6f"/><rect x="1466.6" y="556" width="10.6" height="10" fill="#5b8def"/><rect x="1467.8" y="557.8" width="1.5" height="1.5" fill="#dfe9ff"/><rect x="1467.8" y="560.7" width="1.5" height="1.5" fill="#dfe9ff"/><rect x="1467.8" y="563.6" width="1.5" height="1.5" fill="#dfe9ff"/><rect x="1470.7" y="557.8" width="1.5" height="1.5" fill="#dfe9ff"/><rect x="1470.7" y="560.7" width="1.5" height="1.5" fill="#dfe9ff"/><rect x="1470.7" y="563.6" width="1.5" height="1.5" fill="#dfe9ff"/><rect x="1473.6" y="557.8" width="1.5" height="1.5" fill="#dfe9ff"/><rect x="1473.6" y="560.7" width="1.5" height="1.5" fill="#dfe9ff"/><rect x="1473.6" y="563.6" width="1.5" height="1.5" fill="#dfe9ff"/></g></g><circle cx="1477.4" cy="565" r="11.3" fill="none" stroke="#f5a32b" stroke-width="1.4"/><circle cx="1474.4" cy="564" r="11.3" fill="none" stroke="#f5a32b" stroke-width="1.4"/><circle cx="1482.6" cy="556.5" r="6" fill="#fff"/><text x="1482.6" y="560" font-family="Liberation Sans, sans-serif" font-size="10.5" fill="#222" text-anchor="middle">3</text><g><clipPath id="u1445_564"><circle cx="1445" cy="564" r="8"/></clipPath><g clip-path="url(#u1445_564)"><rect x="1437" y="556" width="16" height="16" fill="#f3f3f6"/><rect x="1437" y="563.0" width="16" height="3" fill="#ea5a6f"/><rect x="1437" y="568.4" width="16" height="3.2" fill="#ea5a6f"/><rect x="1437" y="556" width="10.6" height="10" fill="#5b8def"/><rect x="1438.2" y="557.8" width="1.5" height="1.5" fill="#dfe9ff"/><rect x="1438.2" y="560.7" width="1.5" height="1.5" fill="#dfe9ff"/><rect x="1438.2" y="563.6" width="1.5" height="1.5" fill="#dfe9ff"/><rect x="1441.1" y="557.8" width="1.5" height="1.5" fill="#dfe9ff"/><rect x="1441.1" y="560.7" width="1.5" height="1.5" fill="#dfe9ff"/><rect x="1441.1" y="563.6" width="1.5" height="1.5" fill="#dfe9ff"/><rect x="1444.0" y="557.8" width="1.5" height="1.5" fill="#dfe9ff"/><rect x="1444.0" y="560.7" width="1.5" height="1.5" fill="#dfe9ff"/><rect x="1444.0" y="563.6" width="1.5" height="1.5" fill="#dfe9ff"/></g></g><circle cx="1445" cy="564" r="11.3" fill="none" stroke="#f0506e" stroke-width="1.4"/><circle cx="1454.2" cy="556.5" r="6" fill="#fff"/><text x="1454.2" y="560" font-family="Liberation Sans, sans-serif" font-size="10.5" fill="#222" text-anchor="middle">8</text><circle cx="1438.6" cy="556.5" r="6" fill="#fff"/><text x="1438.6" y="560" font-family="Liberation Sans, sans-serif" font-size="10.5" fill="#222" text-anchor="middle">3</text><g><clipPath id="u1424_564"><circle cx="1424" cy="564" r="8"/></clipPath><g clip-path="url(#u1424_564)"><rect x="1416" y="556" width="16" height="16" fill="#f3f3f6"/><rect x="1416" y="563.0" width="16" height="3" fill="#ea5a6f"/><rect x="1416" y="568.4" width="16" height="3.2" fill="#ea5a6f"/><rect x="1416" y="556" width="10.6" height="10" fill="#5b8def"/><rect x="1417.2" y="557.8" width="1.5" height="1.5" fill="#dfe9ff"/><rect x="1417.2" y="560.7" width="1.5" height="1.5" fill="#dfe9ff"/><rect x="1417.2" y="563.6" width="1.5" height="1.5" fill="#dfe9ff"/><rect x="1420.1" y="557.8" width="1.5" height="1.5" fill="#dfe9ff"/><rect x="1420.1" y="560.7" width="1.5" height="1.5" fill="#dfe9ff"/><rect x="1420.1" y="563.6" width="1.5" height="1.5" fill="#dfe9ff"/><rect x="1423.0" y="557.8" width="1.5" height="1.5" fill="#dfe9ff"/><rect x="1423.0" y="560.7" width="1.5" height="1.5" fill="#dfe9ff"/><rect x="1423.0" y="563.6" width="1.5" height="1.5" fill="#dfe9ff"/></g></g><circle cx="1424" cy="565" r="11.3" fill="none" stroke="#f5a32b" stroke-width="1.4"/><g><clipPath id="c1417_564"><circle cx="1417" cy="564" r="8"/></clipPath><g clip-path="url(#c1417_564)"><rect x="1409" y="556" width="16" height="16" fill="#f3f3f6"/><rect x="1409" y="556" width="4.4" height="16" fill="#ea5a6f"/><rect x="1420.6" y="556" width="4.4" height="16" fill="#ea5a6f"/><path d="M1417,561 l1.2,2 l1.8,-0.5 l-0.8,2.5 l-1.4,0.3 v1.7 h-1.6 v-1.7 l-1.4,-0.3 l-0.8,-2.5 l1.8,0.5 z" fill="#ea5a6f"/></g></g><circle cx="1421" cy="564" r="11.3" fill="none" stroke="#f5a32b" stroke-width="1.4"/><circle cx="1417" cy="564" r="11.3" fill="none" stroke="#f5a32b" stroke-width="1.4"/><circle cx="1431" cy="556.5" r="6" fill="#fff"/><text x="1431" y="560" font-family="Liberation Sans, sans-serif" font-size="10.5" fill="#222" text-anchor="middle">8</text></g>
<g fill="#2196f3"><circle cx="8.2" cy="814.3" r="6.2"/><circle cx="16.9" cy="816.8" r="4.7"/><circle cx="19.4" cy="819.6" r="3.8"/><circle cx="1.3" cy="818.2" r="4.8"/><rect x="0" y="816" width="20" height="5"/></g>
<g><path d="M-1,820.3 L6.9,813.4 L13.4,818.6 L19.2,813" fill="none" stroke="#fff" stroke-width="0.9"/><circle cx="6.9" cy="813.4" r="1.5" fill="#fff"/><circle cx="13.4" cy="818.6" r="1.3" fill="#fff"/></g>
<text x="25.3" y="819.6" font-family="Liberation Sans, sans-serif" font-size="12.5" fill="#262b3a" textLength="70.3" lengthAdjust="spacingAndGlyphs">TradingView</text>
</svg>
</body></html>
